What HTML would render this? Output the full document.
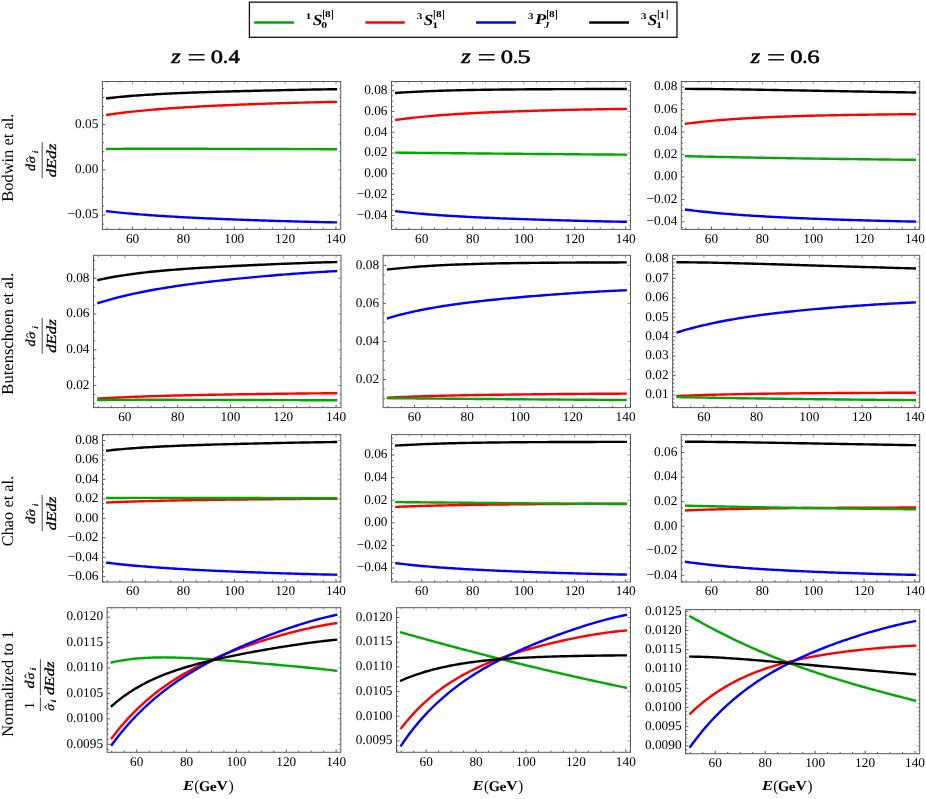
<!DOCTYPE html>
<html><head><meta charset="utf-8"><title>plots</title>
<style>html,body{margin:0;padding:0;background:#fff}svg{display:block;will-change:transform}text{font-family:"Liberation Serif",serif;font-kerning:none;text-rendering:geometricPrecision}</style>
</head><body>
<svg width="926" height="799" viewBox="0 0 926 799">
<rect width="926" height="799" fill="#fff"/>
<path d="M107.17 114.83 L109.71 114.45 L112.25 114.09 L114.79 113.75 L117.33 113.41 L119.88 113.09 L122.42 112.77 L124.96 112.46 L127.50 112.17 L130.04 111.88 L132.58 111.60 L135.13 111.33 L137.67 111.07 L140.21 110.82 L142.75 110.57 L145.29 110.33 L147.84 110.10 L150.38 109.87 L152.92 109.65 L155.46 109.44 L158.00 109.23 L160.55 109.03 L163.09 108.84 L165.63 108.64 L168.17 108.46 L170.71 108.28 L173.25 108.10 L175.80 107.93 L178.34 107.76 L180.88 107.60 L183.42 107.44 L185.96 107.28 L188.51 107.13 L191.05 106.98 L193.59 106.84 L196.13 106.69 L198.67 106.56 L201.22 106.42 L203.76 106.29 L206.30 106.16 L208.84 106.03 L211.38 105.90 L213.92 105.78 L216.47 105.66 L219.01 105.54 L221.55 105.43 L224.09 105.31 L226.63 105.20 L229.18 105.09 L231.72 104.99 L234.26 104.88 L236.80 104.78 L239.34 104.67 L241.88 104.57 L244.43 104.48 L246.97 104.38 L249.51 104.28 L252.05 104.19 L254.59 104.10 L257.14 104.00 L259.68 103.91 L262.22 103.83 L264.76 103.74 L267.30 103.65 L269.85 103.57 L272.39 103.49 L274.93 103.40 L277.47 103.32 L280.01 103.25 L282.55 103.17 L285.10 103.09 L287.64 103.02 L290.18 102.94 L292.72 102.87 L295.26 102.80 L297.81 102.73 L300.35 102.66 L302.89 102.60 L305.43 102.53 L307.97 102.47 L310.52 102.41 L313.06 102.35 L315.60 102.29 L318.14 102.23 L320.68 102.18 L323.22 102.12 L325.77 102.07 L328.31 102.02 L330.85 101.98 L333.39 101.93 L335.93 101.89" fill="none" stroke="#FF0000" stroke-width="2.40" stroke-linecap="square" stroke-linejoin="round"/>
<path d="M107.17 148.94 L109.71 148.92 L112.25 148.90 L114.79 148.88 L117.33 148.86 L119.88 148.85 L122.42 148.84 L124.96 148.82 L127.50 148.81 L130.04 148.80 L132.58 148.79 L135.13 148.79 L137.67 148.78 L140.21 148.77 L142.75 148.77 L145.29 148.76 L147.84 148.76 L150.38 148.76 L152.92 148.75 L155.46 148.75 L158.00 148.75 L160.55 148.75 L163.09 148.75 L165.63 148.75 L168.17 148.75 L170.71 148.76 L173.25 148.76 L175.80 148.76 L178.34 148.76 L180.88 148.77 L183.42 148.77 L185.96 148.78 L188.51 148.78 L191.05 148.79 L193.59 148.79 L196.13 148.80 L198.67 148.80 L201.22 148.81 L203.76 148.81 L206.30 148.82 L208.84 148.83 L211.38 148.83 L213.92 148.84 L216.47 148.85 L219.01 148.85 L221.55 148.86 L224.09 148.87 L226.63 148.87 L229.18 148.88 L231.72 148.89 L234.26 148.90 L236.80 148.90 L239.34 148.91 L241.88 148.92 L244.43 148.93 L246.97 148.93 L249.51 148.94 L252.05 148.95 L254.59 148.96 L257.14 148.97 L259.68 148.97 L262.22 148.98 L264.76 148.99 L267.30 149.00 L269.85 149.01 L272.39 149.01 L274.93 149.02 L277.47 149.03 L280.01 149.04 L282.55 149.05 L285.10 149.06 L287.64 149.06 L290.18 149.07 L292.72 149.08 L295.26 149.09 L297.81 149.10 L300.35 149.11 L302.89 149.12 L305.43 149.13 L307.97 149.13 L310.52 149.14 L313.06 149.15 L315.60 149.16 L318.14 149.17 L320.68 149.18 L323.22 149.19 L325.77 149.20 L328.31 149.21 L330.85 149.22 L333.39 149.23 L335.93 149.24" fill="none" stroke="#00A800" stroke-width="2.40" stroke-linecap="square" stroke-linejoin="round"/>
<path d="M107.17 211.25 L109.71 211.54 L112.25 211.82 L114.79 212.09 L117.33 212.35 L119.88 212.61 L122.42 212.86 L124.96 213.10 L127.50 213.33 L130.04 213.56 L132.58 213.78 L135.13 214.00 L137.67 214.21 L140.21 214.41 L142.75 214.61 L145.29 214.81 L147.84 214.99 L150.38 215.18 L152.92 215.36 L155.46 215.53 L158.00 215.70 L160.55 215.87 L163.09 216.03 L165.63 216.19 L168.17 216.35 L170.71 216.50 L173.25 216.65 L175.80 216.80 L178.34 216.94 L180.88 217.08 L183.42 217.21 L185.96 217.35 L188.51 217.48 L191.05 217.61 L193.59 217.73 L196.13 217.86 L198.67 217.98 L201.22 218.10 L203.76 218.21 L206.30 218.33 L208.84 218.44 L211.38 218.55 L213.92 218.66 L216.47 218.77 L219.01 218.88 L221.55 218.98 L224.09 219.09 L226.63 219.19 L229.18 219.29 L231.72 219.38 L234.26 219.48 L236.80 219.58 L239.34 219.67 L241.88 219.76 L244.43 219.86 L246.97 219.95 L249.51 220.04 L252.05 220.13 L254.59 220.21 L257.14 220.30 L259.68 220.38 L262.22 220.47 L264.76 220.55 L267.30 220.63 L269.85 220.71 L272.39 220.79 L274.93 220.87 L277.47 220.95 L280.01 221.02 L282.55 221.10 L285.10 221.17 L287.64 221.25 L290.18 221.32 L292.72 221.39 L295.26 221.46 L297.81 221.53 L300.35 221.59 L302.89 221.66 L305.43 221.72 L307.97 221.79 L310.52 221.85 L313.06 221.91 L315.60 221.97 L318.14 222.03 L320.68 222.08 L323.22 222.14 L325.77 222.19 L328.31 222.24 L330.85 222.29 L333.39 222.34 L335.93 222.39" fill="none" stroke="#0000FF" stroke-width="2.40" stroke-linecap="square" stroke-linejoin="round"/>
<path d="M107.17 98.31 L109.71 98.01 L112.25 97.72 L114.79 97.44 L117.33 97.18 L119.88 96.93 L122.42 96.69 L124.96 96.46 L127.50 96.24 L130.04 96.02 L132.58 95.82 L135.13 95.62 L137.67 95.43 L140.21 95.25 L142.75 95.08 L145.29 94.91 L147.84 94.74 L150.38 94.59 L152.92 94.44 L155.46 94.29 L158.00 94.15 L160.55 94.01 L163.09 93.88 L165.63 93.75 L168.17 93.63 L170.71 93.51 L173.25 93.39 L175.80 93.28 L178.34 93.17 L180.88 93.06 L183.42 92.96 L185.96 92.86 L188.51 92.76 L191.05 92.67 L193.59 92.57 L196.13 92.48 L198.67 92.39 L201.22 92.31 L203.76 92.22 L206.30 92.14 L208.84 92.06 L211.38 91.98 L213.92 91.90 L216.47 91.82 L219.01 91.75 L221.55 91.67 L224.09 91.60 L226.63 91.53 L229.18 91.46 L231.72 91.39 L234.26 91.32 L236.80 91.26 L239.34 91.19 L241.88 91.12 L244.43 91.06 L246.97 90.99 L249.51 90.93 L252.05 90.87 L254.59 90.81 L257.14 90.74 L259.68 90.68 L262.22 90.62 L264.76 90.56 L267.30 90.50 L269.85 90.45 L272.39 90.39 L274.93 90.33 L277.47 90.27 L280.01 90.22 L282.55 90.16 L285.10 90.11 L287.64 90.06 L290.18 90.00 L292.72 89.95 L295.26 89.90 L297.81 89.85 L300.35 89.80 L302.89 89.75 L305.43 89.70 L307.97 89.65 L310.52 89.61 L313.06 89.56 L315.60 89.52 L318.14 89.48 L320.68 89.44 L323.22 89.40 L325.77 89.36 L328.31 89.32 L330.85 89.29 L333.39 89.25 L335.93 89.22" fill="none" stroke="#000000" stroke-width="2.40" stroke-linecap="square" stroke-linejoin="round"/>
<path d="M107.17 229.40v-1.70 M119.88 229.40v-1.70 M132.58 229.40v-2.90 M145.29 229.40v-1.70 M158.00 229.40v-1.70 M170.71 229.40v-1.70 M183.42 229.40v-2.90 M196.13 229.40v-1.70 M208.84 229.40v-1.70 M221.55 229.40v-1.70 M234.26 229.40v-2.90 M246.97 229.40v-1.70 M259.68 229.40v-1.70 M272.39 229.40v-1.70 M285.10 229.40v-2.90 M297.81 229.40v-1.70 M310.52 229.40v-1.70 M323.22 229.40v-1.70 M335.93 229.40v-2.90 M102.40 224.15h1.70 M102.40 215.10h2.90 M102.40 206.05h1.70 M102.40 197.00h1.70 M102.40 187.95h1.70 M102.40 178.90h1.70 M102.40 169.85h2.90 M102.40 160.80h1.70 M102.40 151.75h1.70 M102.40 142.70h1.70 M102.40 133.65h1.70 M102.40 124.60h2.90 M102.40 115.55h1.70 M102.40 106.50h1.70 M102.40 97.45h1.70 M102.40 88.40h1.70" fill="none" stroke="#333" stroke-width="0.8"/>
<path d="M107.17 81.50v1.70 M119.88 81.50v1.70 M132.58 81.50v2.90 M145.29 81.50v1.70 M158.00 81.50v1.70 M170.71 81.50v1.70 M183.42 81.50v2.90 M196.13 81.50v1.70 M208.84 81.50v1.70 M221.55 81.50v1.70 M234.26 81.50v2.90 M246.97 81.50v1.70 M259.68 81.50v1.70 M272.39 81.50v1.70 M285.10 81.50v2.90 M297.81 81.50v1.70 M310.52 81.50v1.70 M323.22 81.50v1.70 M335.93 81.50v2.90 M340.70 224.15h-1.70 M340.70 215.10h-2.90 M340.70 206.05h-1.70 M340.70 197.00h-1.70 M340.70 187.95h-1.70 M340.70 178.90h-1.70 M340.70 169.85h-2.90 M340.70 160.80h-1.70 M340.70 151.75h-1.70 M340.70 142.70h-1.70 M340.70 133.65h-1.70 M340.70 124.60h-2.90 M340.70 115.55h-1.70 M340.70 106.50h-1.70 M340.70 97.45h-1.70 M340.70 88.40h-1.70" fill="none" stroke="#555" stroke-width="0.6"/>
<rect x="102.40" y="81.50" width="238.30" height="147.90" fill="none" stroke="#5a5a5a" stroke-width="1"/>
<text transform="translate(98.40,218.40) scale(0.13330)" text-anchor="end" font-size="100">−0.05</text>
<text transform="translate(98.40,173.15) scale(0.13330)" text-anchor="end" font-size="100">0.00</text>
<text transform="translate(98.40,127.90) scale(0.13330)" text-anchor="end" font-size="100">0.05</text>
<text transform="translate(132.58,242.80) scale(0.13330)" text-anchor="middle" font-size="100">60</text>
<text transform="translate(183.42,242.80) scale(0.13330)" text-anchor="middle" font-size="100">80</text>
<text transform="translate(234.26,242.80) scale(0.13330)" text-anchor="middle" font-size="100">100</text>
<text transform="translate(285.10,242.80) scale(0.13330)" text-anchor="middle" font-size="100">120</text>
<text transform="translate(335.93,242.80) scale(0.13330)" text-anchor="middle" font-size="100">140</text>
<path d="M396.28 119.86 L398.83 119.50 L401.38 119.16 L403.93 118.83 L406.48 118.51 L409.03 118.20 L411.58 117.90 L414.13 117.62 L416.67 117.34 L419.22 117.08 L421.77 116.82 L424.32 116.57 L426.87 116.33 L429.42 116.10 L431.97 115.88 L434.52 115.67 L437.07 115.46 L439.62 115.26 L442.17 115.06 L444.72 114.87 L447.27 114.69 L449.82 114.52 L452.37 114.35 L454.91 114.18 L457.46 114.02 L460.01 113.86 L462.56 113.71 L465.11 113.57 L467.66 113.43 L470.21 113.29 L472.76 113.16 L475.31 113.03 L477.86 112.90 L480.41 112.78 L482.96 112.66 L485.51 112.54 L488.06 112.43 L490.61 112.32 L493.15 112.21 L495.70 112.10 L498.25 112.00 L500.80 111.90 L503.35 111.80 L505.90 111.71 L508.45 111.62 L511.00 111.52 L513.55 111.44 L516.10 111.35 L518.65 111.26 L521.20 111.18 L523.75 111.10 L526.30 111.02 L528.85 110.94 L531.39 110.86 L533.94 110.78 L536.49 110.71 L539.04 110.64 L541.59 110.57 L544.14 110.49 L546.69 110.43 L549.24 110.36 L551.79 110.29 L554.34 110.22 L556.89 110.16 L559.44 110.10 L561.99 110.04 L564.54 109.97 L567.09 109.91 L569.63 109.86 L572.18 109.80 L574.73 109.74 L577.28 109.69 L579.83 109.63 L582.38 109.58 L584.93 109.53 L587.48 109.48 L590.03 109.43 L592.58 109.38 L595.13 109.34 L597.68 109.29 L600.23 109.25 L602.78 109.21 L605.33 109.17 L607.87 109.13 L610.42 109.10 L612.97 109.06 L615.52 109.03 L618.07 109.00 L620.62 108.97 L623.17 108.94 L625.72 108.92" fill="none" stroke="#FF0000" stroke-width="2.40" stroke-linecap="square" stroke-linejoin="round"/>
<path d="M396.28 152.64 L398.83 152.67 L401.38 152.69 L403.93 152.72 L406.48 152.75 L409.03 152.77 L411.58 152.80 L414.13 152.82 L416.67 152.85 L419.22 152.87 L421.77 152.90 L424.32 152.92 L426.87 152.95 L429.42 152.97 L431.97 153.00 L434.52 153.02 L437.07 153.05 L439.62 153.07 L442.17 153.10 L444.72 153.12 L447.27 153.15 L449.82 153.17 L452.37 153.19 L454.91 153.22 L457.46 153.24 L460.01 153.27 L462.56 153.29 L465.11 153.32 L467.66 153.34 L470.21 153.36 L472.76 153.39 L475.31 153.41 L477.86 153.43 L480.41 153.46 L482.96 153.48 L485.51 153.51 L488.06 153.53 L490.61 153.55 L493.15 153.58 L495.70 153.60 L498.25 153.62 L500.80 153.64 L503.35 153.67 L505.90 153.69 L508.45 153.71 L511.00 153.74 L513.55 153.76 L516.10 153.78 L518.65 153.80 L521.20 153.82 L523.75 153.85 L526.30 153.87 L528.85 153.89 L531.39 153.91 L533.94 153.93 L536.49 153.96 L539.04 153.98 L541.59 154.00 L544.14 154.02 L546.69 154.04 L549.24 154.06 L551.79 154.08 L554.34 154.11 L556.89 154.13 L559.44 154.15 L561.99 154.17 L564.54 154.19 L567.09 154.21 L569.63 154.23 L572.18 154.25 L574.73 154.27 L577.28 154.29 L579.83 154.31 L582.38 154.33 L584.93 154.35 L587.48 154.37 L590.03 154.39 L592.58 154.41 L595.13 154.43 L597.68 154.45 L600.23 154.47 L602.78 154.49 L605.33 154.51 L607.87 154.53 L610.42 154.55 L612.97 154.57 L615.52 154.59 L618.07 154.61 L620.62 154.63 L623.17 154.65 L625.72 154.67" fill="none" stroke="#00A800" stroke-width="2.40" stroke-linecap="square" stroke-linejoin="round"/>
<path d="M396.28 211.28 L398.83 211.58 L401.38 211.86 L403.93 212.13 L406.48 212.40 L409.03 212.66 L411.58 212.90 L414.13 213.14 L416.67 213.38 L419.22 213.60 L421.77 213.82 L424.32 214.03 L426.87 214.24 L429.42 214.44 L431.97 214.63 L434.52 214.82 L437.07 215.00 L439.62 215.18 L442.17 215.35 L444.72 215.52 L447.27 215.68 L449.82 215.84 L452.37 215.99 L454.91 216.14 L457.46 216.29 L460.01 216.43 L462.56 216.57 L465.11 216.71 L467.66 216.84 L470.21 216.97 L472.76 217.10 L475.31 217.22 L477.86 217.34 L480.41 217.46 L482.96 217.58 L485.51 217.69 L488.06 217.80 L490.61 217.91 L493.15 218.02 L495.70 218.12 L498.25 218.23 L500.80 218.33 L503.35 218.43 L505.90 218.53 L508.45 218.62 L511.00 218.72 L513.55 218.81 L516.10 218.90 L518.65 218.99 L521.20 219.08 L523.75 219.17 L526.30 219.26 L528.85 219.34 L531.39 219.42 L533.94 219.51 L536.49 219.59 L539.04 219.67 L541.59 219.75 L544.14 219.83 L546.69 219.91 L549.24 219.98 L551.79 220.06 L554.34 220.13 L556.89 220.21 L559.44 220.28 L561.99 220.35 L564.54 220.42 L567.09 220.49 L569.63 220.56 L572.18 220.63 L574.73 220.70 L577.28 220.77 L579.83 220.83 L582.38 220.90 L584.93 220.96 L587.48 221.02 L590.03 221.08 L592.58 221.14 L595.13 221.20 L597.68 221.26 L600.23 221.32 L602.78 221.37 L605.33 221.43 L607.87 221.48 L610.42 221.53 L612.97 221.58 L615.52 221.63 L618.07 221.67 L620.62 221.72 L623.17 221.76 L625.72 221.80" fill="none" stroke="#0000FF" stroke-width="2.40" stroke-linecap="square" stroke-linejoin="round"/>
<path d="M396.28 92.86 L398.83 92.70 L401.38 92.54 L403.93 92.38 L406.48 92.24 L409.03 92.10 L411.58 91.96 L414.13 91.83 L416.67 91.71 L419.22 91.59 L421.77 91.47 L424.32 91.37 L426.87 91.26 L429.42 91.16 L431.97 91.06 L434.52 90.97 L437.07 90.88 L439.62 90.80 L442.17 90.72 L444.72 90.64 L447.27 90.56 L449.82 90.49 L452.37 90.42 L454.91 90.36 L457.46 90.29 L460.01 90.23 L462.56 90.17 L465.11 90.12 L467.66 90.07 L470.21 90.02 L472.76 89.97 L475.31 89.92 L477.86 89.88 L480.41 89.83 L482.96 89.79 L485.51 89.75 L488.06 89.72 L490.61 89.68 L493.15 89.65 L495.70 89.62 L498.25 89.58 L500.80 89.55 L503.35 89.53 L505.90 89.50 L508.45 89.47 L511.00 89.45 L513.55 89.43 L516.10 89.40 L518.65 89.38 L521.20 89.36 L523.75 89.34 L526.30 89.32 L528.85 89.31 L531.39 89.29 L533.94 89.27 L536.49 89.26 L539.04 89.24 L541.59 89.23 L544.14 89.22 L546.69 89.20 L549.24 89.19 L551.79 89.18 L554.34 89.17 L556.89 89.16 L559.44 89.15 L561.99 89.14 L564.54 89.13 L567.09 89.12 L569.63 89.11 L572.18 89.11 L574.73 89.10 L577.28 89.09 L579.83 89.08 L582.38 89.08 L584.93 89.07 L587.48 89.06 L590.03 89.06 L592.58 89.05 L595.13 89.05 L597.68 89.04 L600.23 89.04 L602.78 89.03 L605.33 89.03 L607.87 89.02 L610.42 89.02 L612.97 89.02 L615.52 89.01 L618.07 89.01 L620.62 89.01 L623.17 89.00 L625.72 89.00" fill="none" stroke="#000000" stroke-width="2.40" stroke-linecap="square" stroke-linejoin="round"/>
<path d="M396.28 229.40v-1.70 M409.03 229.40v-1.70 M421.77 229.40v-2.90 M434.52 229.40v-1.70 M447.27 229.40v-1.70 M460.01 229.40v-1.70 M472.76 229.40v-2.90 M485.51 229.40v-1.70 M498.25 229.40v-1.70 M511.00 229.40v-1.70 M523.75 229.40v-2.90 M536.49 229.40v-1.70 M549.24 229.40v-1.70 M561.99 229.40v-1.70 M574.73 229.40v-2.90 M587.48 229.40v-1.70 M600.23 229.40v-1.70 M612.97 229.40v-1.70 M625.72 229.40v-2.90 M391.50 225.78h1.70 M391.50 220.58h1.70 M391.50 215.38h2.90 M391.50 210.18h1.70 M391.50 204.99h1.70 M391.50 199.79h1.70 M391.50 194.59h2.90 M391.50 189.39h1.70 M391.50 184.20h1.70 M391.50 179.00h1.70 M391.50 173.80h2.90 M391.50 168.60h1.70 M391.50 163.41h1.70 M391.50 158.21h1.70 M391.50 153.01h2.90 M391.50 147.81h1.70 M391.50 142.62h1.70 M391.50 137.42h1.70 M391.50 132.22h2.90 M391.50 127.02h1.70 M391.50 121.83h1.70 M391.50 116.63h1.70 M391.50 111.43h2.90 M391.50 106.23h1.70 M391.50 101.04h1.70 M391.50 95.84h1.70 M391.50 90.64h2.90 M391.50 85.44h1.70" fill="none" stroke="#333" stroke-width="0.8"/>
<path d="M396.28 81.50v1.70 M409.03 81.50v1.70 M421.77 81.50v2.90 M434.52 81.50v1.70 M447.27 81.50v1.70 M460.01 81.50v1.70 M472.76 81.50v2.90 M485.51 81.50v1.70 M498.25 81.50v1.70 M511.00 81.50v1.70 M523.75 81.50v2.90 M536.49 81.50v1.70 M549.24 81.50v1.70 M561.99 81.50v1.70 M574.73 81.50v2.90 M587.48 81.50v1.70 M600.23 81.50v1.70 M612.97 81.50v1.70 M625.72 81.50v2.90 M630.50 225.78h-1.70 M630.50 220.58h-1.70 M630.50 215.38h-2.90 M630.50 210.18h-1.70 M630.50 204.99h-1.70 M630.50 199.79h-1.70 M630.50 194.59h-2.90 M630.50 189.39h-1.70 M630.50 184.20h-1.70 M630.50 179.00h-1.70 M630.50 173.80h-2.90 M630.50 168.60h-1.70 M630.50 163.41h-1.70 M630.50 158.21h-1.70 M630.50 153.01h-2.90 M630.50 147.81h-1.70 M630.50 142.62h-1.70 M630.50 137.42h-1.70 M630.50 132.22h-2.90 M630.50 127.02h-1.70 M630.50 121.83h-1.70 M630.50 116.63h-1.70 M630.50 111.43h-2.90 M630.50 106.23h-1.70 M630.50 101.04h-1.70 M630.50 95.84h-1.70 M630.50 90.64h-2.90 M630.50 85.44h-1.70" fill="none" stroke="#555" stroke-width="0.6"/>
<rect x="391.50" y="81.50" width="239.00" height="147.90" fill="none" stroke="#5a5a5a" stroke-width="1"/>
<text transform="translate(387.50,218.68) scale(0.13330)" text-anchor="end" font-size="100">−0.04</text>
<text transform="translate(387.50,197.89) scale(0.13330)" text-anchor="end" font-size="100">−0.02</text>
<text transform="translate(387.50,177.10) scale(0.13330)" text-anchor="end" font-size="100">0.00</text>
<text transform="translate(387.50,156.31) scale(0.13330)" text-anchor="end" font-size="100">0.02</text>
<text transform="translate(387.50,135.52) scale(0.13330)" text-anchor="end" font-size="100">0.04</text>
<text transform="translate(387.50,114.73) scale(0.13330)" text-anchor="end" font-size="100">0.06</text>
<text transform="translate(387.50,93.94) scale(0.13330)" text-anchor="end" font-size="100">0.08</text>
<text transform="translate(421.77,242.80) scale(0.13330)" text-anchor="middle" font-size="100">60</text>
<text transform="translate(472.76,242.80) scale(0.13330)" text-anchor="middle" font-size="100">80</text>
<text transform="translate(523.75,242.80) scale(0.13330)" text-anchor="middle" font-size="100">100</text>
<text transform="translate(574.73,242.80) scale(0.13330)" text-anchor="middle" font-size="100">120</text>
<text transform="translate(625.72,242.80) scale(0.13330)" text-anchor="middle" font-size="100">140</text>
<path d="M686.07 123.74 L688.61 123.41 L691.15 123.09 L693.70 122.78 L696.24 122.48 L698.78 122.19 L701.33 121.91 L703.87 121.64 L706.41 121.38 L708.95 121.13 L711.50 120.88 L714.04 120.65 L716.58 120.42 L719.13 120.21 L721.67 119.99 L724.21 119.79 L726.75 119.59 L729.30 119.40 L731.84 119.22 L734.38 119.04 L736.93 118.87 L739.47 118.71 L742.01 118.55 L744.56 118.39 L747.10 118.24 L749.64 118.10 L752.18 117.96 L754.73 117.82 L757.27 117.69 L759.81 117.57 L762.36 117.45 L764.90 117.33 L767.44 117.21 L769.98 117.10 L772.53 117.00 L775.07 116.90 L777.61 116.80 L780.16 116.70 L782.70 116.61 L785.24 116.52 L787.79 116.43 L790.33 116.34 L792.87 116.26 L795.41 116.18 L797.96 116.10 L800.50 116.03 L803.04 115.96 L805.59 115.89 L808.13 115.82 L810.67 115.75 L813.21 115.69 L815.76 115.63 L818.30 115.57 L820.84 115.51 L823.39 115.45 L825.93 115.40 L828.47 115.34 L831.02 115.29 L833.56 115.24 L836.10 115.19 L838.64 115.14 L841.19 115.09 L843.73 115.05 L846.27 115.00 L848.82 114.96 L851.36 114.92 L853.90 114.88 L856.44 114.84 L858.99 114.80 L861.53 114.76 L864.07 114.73 L866.62 114.69 L869.16 114.66 L871.70 114.62 L874.25 114.59 L876.79 114.56 L879.33 114.53 L881.87 114.50 L884.42 114.47 L886.96 114.44 L889.50 114.42 L892.05 114.39 L894.59 114.37 L897.13 114.34 L899.67 114.32 L902.22 114.30 L904.76 114.27 L907.30 114.25 L909.85 114.24 L912.39 114.22 L914.93 114.20" fill="none" stroke="#FF0000" stroke-width="2.40" stroke-linecap="square" stroke-linejoin="round"/>
<path d="M686.07 156.16 L688.61 156.22 L691.15 156.28 L693.70 156.35 L696.24 156.41 L698.78 156.47 L701.33 156.53 L703.87 156.58 L706.41 156.64 L708.95 156.70 L711.50 156.76 L714.04 156.81 L716.58 156.87 L719.13 156.93 L721.67 156.98 L724.21 157.03 L726.75 157.09 L729.30 157.14 L731.84 157.19 L734.38 157.24 L736.93 157.30 L739.47 157.35 L742.01 157.40 L744.56 157.45 L747.10 157.49 L749.64 157.54 L752.18 157.59 L754.73 157.64 L757.27 157.68 L759.81 157.73 L762.36 157.78 L764.90 157.82 L767.44 157.87 L769.98 157.91 L772.53 157.96 L775.07 158.00 L777.61 158.04 L780.16 158.08 L782.70 158.13 L785.24 158.17 L787.79 158.21 L790.33 158.25 L792.87 158.29 L795.41 158.33 L797.96 158.37 L800.50 158.41 L803.04 158.44 L805.59 158.48 L808.13 158.52 L810.67 158.56 L813.21 158.59 L815.76 158.63 L818.30 158.67 L820.84 158.70 L823.39 158.74 L825.93 158.77 L828.47 158.81 L831.02 158.84 L833.56 158.87 L836.10 158.91 L838.64 158.94 L841.19 158.97 L843.73 159.01 L846.27 159.04 L848.82 159.07 L851.36 159.10 L853.90 159.13 L856.44 159.16 L858.99 159.20 L861.53 159.23 L864.07 159.26 L866.62 159.29 L869.16 159.32 L871.70 159.35 L874.25 159.38 L876.79 159.41 L879.33 159.44 L881.87 159.46 L884.42 159.49 L886.96 159.52 L889.50 159.55 L892.05 159.58 L894.59 159.61 L897.13 159.64 L899.67 159.66 L902.22 159.69 L904.76 159.72 L907.30 159.75 L909.85 159.78 L912.39 159.80 L914.93 159.83" fill="none" stroke="#00A800" stroke-width="2.40" stroke-linecap="square" stroke-linejoin="round"/>
<path d="M686.07 209.65 L688.61 209.98 L691.15 210.30 L693.70 210.60 L696.24 210.90 L698.78 211.19 L701.33 211.47 L703.87 211.74 L706.41 212.01 L708.95 212.26 L711.50 212.51 L714.04 212.75 L716.58 212.99 L719.13 213.22 L721.67 213.44 L724.21 213.66 L726.75 213.87 L729.30 214.07 L731.84 214.28 L734.38 214.47 L736.93 214.66 L739.47 214.84 L742.01 215.02 L744.56 215.20 L747.10 215.37 L749.64 215.54 L752.18 215.70 L754.73 215.86 L757.27 216.02 L759.81 216.17 L762.36 216.32 L764.90 216.46 L767.44 216.60 L769.98 216.74 L772.53 216.88 L775.07 217.01 L777.61 217.14 L780.16 217.27 L782.70 217.39 L785.24 217.51 L787.79 217.63 L790.33 217.75 L792.87 217.86 L795.41 217.97 L797.96 218.08 L800.50 218.19 L803.04 218.30 L805.59 218.40 L808.13 218.51 L810.67 218.61 L813.21 218.70 L815.76 218.80 L818.30 218.90 L820.84 218.99 L823.39 219.08 L825.93 219.17 L828.47 219.26 L831.02 219.35 L833.56 219.44 L836.10 219.52 L838.64 219.61 L841.19 219.69 L843.73 219.77 L846.27 219.85 L848.82 219.93 L851.36 220.01 L853.90 220.09 L856.44 220.16 L858.99 220.24 L861.53 220.31 L864.07 220.38 L866.62 220.45 L869.16 220.52 L871.70 220.59 L874.25 220.66 L876.79 220.72 L879.33 220.79 L881.87 220.85 L884.42 220.92 L886.96 220.98 L889.50 221.04 L892.05 221.10 L894.59 221.16 L897.13 221.22 L899.67 221.27 L902.22 221.33 L904.76 221.38 L907.30 221.43 L909.85 221.48 L912.39 221.53 L914.93 221.58" fill="none" stroke="#0000FF" stroke-width="2.40" stroke-linecap="square" stroke-linejoin="round"/>
<path d="M686.07 88.91 L688.61 88.91 L691.15 88.92 L693.70 88.93 L696.24 88.94 L698.78 88.96 L701.33 88.98 L703.87 89.00 L706.41 89.02 L708.95 89.04 L711.50 89.06 L714.04 89.09 L716.58 89.12 L719.13 89.14 L721.67 89.17 L724.21 89.21 L726.75 89.24 L729.30 89.27 L731.84 89.31 L734.38 89.34 L736.93 89.38 L739.47 89.42 L742.01 89.45 L744.56 89.49 L747.10 89.53 L749.64 89.57 L752.18 89.61 L754.73 89.66 L757.27 89.70 L759.81 89.74 L762.36 89.78 L764.90 89.83 L767.44 89.87 L769.98 89.92 L772.53 89.96 L775.07 90.01 L777.61 90.05 L780.16 90.10 L782.70 90.14 L785.24 90.19 L787.79 90.23 L790.33 90.28 L792.87 90.33 L795.41 90.37 L797.96 90.42 L800.50 90.47 L803.04 90.51 L805.59 90.56 L808.13 90.61 L810.67 90.65 L813.21 90.70 L815.76 90.75 L818.30 90.79 L820.84 90.84 L823.39 90.89 L825.93 90.93 L828.47 90.98 L831.02 91.03 L833.56 91.07 L836.10 91.12 L838.64 91.16 L841.19 91.21 L843.73 91.26 L846.27 91.30 L848.82 91.35 L851.36 91.39 L853.90 91.44 L856.44 91.48 L858.99 91.53 L861.53 91.57 L864.07 91.62 L866.62 91.66 L869.16 91.71 L871.70 91.75 L874.25 91.80 L876.79 91.84 L879.33 91.88 L881.87 91.93 L884.42 91.97 L886.96 92.01 L889.50 92.06 L892.05 92.10 L894.59 92.15 L897.13 92.19 L899.67 92.23 L902.22 92.28 L904.76 92.32 L907.30 92.36 L909.85 92.41 L912.39 92.45 L914.93 92.49" fill="none" stroke="#000000" stroke-width="2.40" stroke-linecap="square" stroke-linejoin="round"/>
<path d="M686.07 229.40v-1.70 M698.78 229.40v-1.70 M711.50 229.40v-2.90 M724.21 229.40v-1.70 M736.93 229.40v-1.70 M749.64 229.40v-1.70 M762.36 229.40v-2.90 M775.07 229.40v-1.70 M787.79 229.40v-1.70 M800.50 229.40v-1.70 M813.21 229.40v-2.90 M825.93 229.40v-1.70 M838.64 229.40v-1.70 M851.36 229.40v-1.70 M864.07 229.40v-2.90 M876.79 229.40v-1.70 M889.50 229.40v-1.70 M902.22 229.40v-1.70 M914.93 229.40v-2.90 M681.30 227.48h1.70 M681.30 221.86h2.90 M681.30 216.24h1.70 M681.30 210.62h1.70 M681.30 205.00h1.70 M681.30 199.38h2.90 M681.30 193.76h1.70 M681.30 188.14h1.70 M681.30 182.52h1.70 M681.30 176.90h2.90 M681.30 171.28h1.70 M681.30 165.66h1.70 M681.30 160.04h1.70 M681.30 154.42h2.90 M681.30 148.80h1.70 M681.30 143.18h1.70 M681.30 137.56h1.70 M681.30 131.94h2.90 M681.30 126.32h1.70 M681.30 120.70h1.70 M681.30 115.08h1.70 M681.30 109.46h2.90 M681.30 103.84h1.70 M681.30 98.22h1.70 M681.30 92.60h1.70 M681.30 86.98h2.90" fill="none" stroke="#333" stroke-width="0.8"/>
<path d="M686.07 81.50v1.70 M698.78 81.50v1.70 M711.50 81.50v2.90 M724.21 81.50v1.70 M736.93 81.50v1.70 M749.64 81.50v1.70 M762.36 81.50v2.90 M775.07 81.50v1.70 M787.79 81.50v1.70 M800.50 81.50v1.70 M813.21 81.50v2.90 M825.93 81.50v1.70 M838.64 81.50v1.70 M851.36 81.50v1.70 M864.07 81.50v2.90 M876.79 81.50v1.70 M889.50 81.50v1.70 M902.22 81.50v1.70 M914.93 81.50v2.90 M919.70 227.48h-1.70 M919.70 221.86h-2.90 M919.70 216.24h-1.70 M919.70 210.62h-1.70 M919.70 205.00h-1.70 M919.70 199.38h-2.90 M919.70 193.76h-1.70 M919.70 188.14h-1.70 M919.70 182.52h-1.70 M919.70 176.90h-2.90 M919.70 171.28h-1.70 M919.70 165.66h-1.70 M919.70 160.04h-1.70 M919.70 154.42h-2.90 M919.70 148.80h-1.70 M919.70 143.18h-1.70 M919.70 137.56h-1.70 M919.70 131.94h-2.90 M919.70 126.32h-1.70 M919.70 120.70h-1.70 M919.70 115.08h-1.70 M919.70 109.46h-2.90 M919.70 103.84h-1.70 M919.70 98.22h-1.70 M919.70 92.60h-1.70 M919.70 86.98h-2.90" fill="none" stroke="#555" stroke-width="0.6"/>
<rect x="681.30" y="81.50" width="238.40" height="147.90" fill="none" stroke="#5a5a5a" stroke-width="1"/>
<text transform="translate(677.30,225.16) scale(0.13330)" text-anchor="end" font-size="100">−0.04</text>
<text transform="translate(677.30,202.68) scale(0.13330)" text-anchor="end" font-size="100">−0.02</text>
<text transform="translate(677.30,180.20) scale(0.13330)" text-anchor="end" font-size="100">0.00</text>
<text transform="translate(677.30,157.72) scale(0.13330)" text-anchor="end" font-size="100">0.02</text>
<text transform="translate(677.30,135.24) scale(0.13330)" text-anchor="end" font-size="100">0.04</text>
<text transform="translate(677.30,112.76) scale(0.13330)" text-anchor="end" font-size="100">0.06</text>
<text transform="translate(677.30,90.28) scale(0.13330)" text-anchor="end" font-size="100">0.08</text>
<text transform="translate(711.50,242.80) scale(0.13330)" text-anchor="middle" font-size="100">60</text>
<text transform="translate(762.36,242.80) scale(0.13330)" text-anchor="middle" font-size="100">80</text>
<text transform="translate(813.21,242.80) scale(0.13330)" text-anchor="middle" font-size="100">100</text>
<text transform="translate(864.07,242.80) scale(0.13330)" text-anchor="middle" font-size="100">120</text>
<text transform="translate(914.93,242.80) scale(0.13330)" text-anchor="middle" font-size="100">140</text>
<path d="M98.45 398.54 L101.09 398.39 L103.73 398.24 L106.37 398.10 L109.01 397.96 L111.65 397.83 L114.29 397.70 L116.93 397.57 L119.57 397.45 L122.21 397.33 L124.85 397.22 L127.49 397.11 L130.13 397.00 L132.77 396.89 L135.41 396.79 L138.05 396.69 L140.69 396.60 L143.33 396.50 L145.97 396.41 L148.61 396.32 L151.25 396.24 L153.89 396.16 L156.53 396.08 L159.17 396.00 L161.81 395.92 L164.45 395.85 L167.09 395.77 L169.73 395.70 L172.37 395.63 L175.01 395.56 L177.65 395.50 L180.29 395.43 L182.93 395.37 L185.57 395.31 L188.21 395.25 L190.85 395.19 L193.49 395.13 L196.13 395.08 L198.77 395.02 L201.41 394.97 L204.05 394.92 L206.69 394.87 L209.33 394.82 L211.97 394.77 L214.61 394.72 L217.25 394.67 L219.89 394.62 L222.53 394.58 L225.17 394.53 L227.81 394.49 L230.45 394.44 L233.09 394.40 L235.73 394.36 L238.37 394.32 L241.01 394.28 L243.65 394.24 L246.29 394.20 L248.93 394.16 L251.57 394.12 L254.21 394.08 L256.85 394.05 L259.49 394.01 L262.13 393.97 L264.77 393.94 L267.41 393.90 L270.05 393.87 L272.69 393.84 L275.33 393.80 L277.97 393.77 L280.61 393.74 L283.25 393.71 L285.89 393.68 L288.53 393.65 L291.17 393.62 L293.81 393.59 L296.45 393.56 L299.09 393.53 L301.73 393.50 L304.37 393.48 L307.01 393.45 L309.65 393.42 L312.29 393.40 L314.93 393.38 L317.57 393.35 L320.21 393.33 L322.85 393.31 L325.49 393.29 L328.13 393.27 L330.77 393.25 L333.41 393.23 L336.05 393.21" fill="none" stroke="#FF0000" stroke-width="2.40" stroke-linecap="square" stroke-linejoin="round"/>
<path d="M98.45 400.00 L101.09 399.98 L103.73 399.96 L106.37 399.94 L109.01 399.92 L111.65 399.91 L114.29 399.89 L116.93 399.88 L119.57 399.87 L122.21 399.86 L124.85 399.85 L127.49 399.84 L130.13 399.83 L132.77 399.83 L135.41 399.82 L138.05 399.82 L140.69 399.81 L143.33 399.81 L145.97 399.81 L148.61 399.81 L151.25 399.81 L153.89 399.81 L156.53 399.81 L159.17 399.81 L161.81 399.81 L164.45 399.81 L167.09 399.81 L169.73 399.82 L172.37 399.82 L175.01 399.82 L177.65 399.83 L180.29 399.83 L182.93 399.84 L185.57 399.84 L188.21 399.85 L190.85 399.85 L193.49 399.86 L196.13 399.86 L198.77 399.87 L201.41 399.87 L204.05 399.88 L206.69 399.89 L209.33 399.89 L211.97 399.90 L214.61 399.91 L217.25 399.92 L219.89 399.92 L222.53 399.93 L225.17 399.94 L227.81 399.95 L230.45 399.95 L233.09 399.96 L235.73 399.97 L238.37 399.98 L241.01 399.98 L243.65 399.99 L246.29 400.00 L248.93 400.01 L251.57 400.02 L254.21 400.02 L256.85 400.03 L259.49 400.04 L262.13 400.05 L264.77 400.06 L267.41 400.07 L270.05 400.07 L272.69 400.08 L275.33 400.09 L277.97 400.10 L280.61 400.11 L283.25 400.12 L285.89 400.12 L288.53 400.13 L291.17 400.14 L293.81 400.15 L296.45 400.16 L299.09 400.17 L301.73 400.18 L304.37 400.19 L307.01 400.20 L309.65 400.20 L312.29 400.21 L314.93 400.22 L317.57 400.23 L320.21 400.24 L322.85 400.25 L325.49 400.26 L328.13 400.27 L330.77 400.29 L333.41 400.30 L336.05 400.31" fill="none" stroke="#00A800" stroke-width="2.40" stroke-linecap="square" stroke-linejoin="round"/>
<path d="M98.45 302.96 L101.09 302.14 L103.73 301.34 L106.37 300.56 L109.01 299.81 L111.65 299.08 L114.29 298.37 L116.93 297.68 L119.57 297.01 L122.21 296.36 L124.85 295.72 L127.49 295.11 L130.13 294.51 L132.77 293.92 L135.41 293.35 L138.05 292.80 L140.69 292.26 L143.33 291.73 L145.97 291.22 L148.61 290.72 L151.25 290.23 L153.89 289.75 L156.53 289.29 L159.17 288.83 L161.81 288.39 L164.45 287.95 L167.09 287.53 L169.73 287.11 L172.37 286.71 L175.01 286.31 L177.65 285.92 L180.29 285.54 L182.93 285.16 L185.57 284.79 L188.21 284.43 L190.85 284.08 L193.49 283.73 L196.13 283.39 L198.77 283.06 L201.41 282.73 L204.05 282.41 L206.69 282.09 L209.33 281.78 L211.97 281.47 L214.61 281.16 L217.25 280.87 L219.89 280.57 L222.53 280.28 L225.17 280.00 L227.81 279.72 L230.45 279.44 L233.09 279.17 L235.73 278.90 L238.37 278.63 L241.01 278.37 L243.65 278.11 L246.29 277.85 L248.93 277.60 L251.57 277.35 L254.21 277.11 L256.85 276.86 L259.49 276.62 L262.13 276.39 L264.77 276.15 L267.41 275.92 L270.05 275.70 L272.69 275.47 L275.33 275.25 L277.97 275.03 L280.61 274.82 L283.25 274.61 L285.89 274.40 L288.53 274.19 L291.17 273.99 L293.81 273.79 L296.45 273.60 L299.09 273.41 L301.73 273.22 L304.37 273.03 L307.01 272.85 L309.65 272.67 L312.29 272.50 L314.93 272.33 L317.57 272.17 L320.21 272.01 L322.85 271.85 L325.49 271.70 L328.13 271.55 L330.77 271.41 L333.41 271.27 L336.05 271.14" fill="none" stroke="#0000FF" stroke-width="2.40" stroke-linecap="square" stroke-linejoin="round"/>
<path d="M98.45 279.99 L101.09 279.39 L103.73 278.83 L106.37 278.29 L109.01 277.77 L111.65 277.27 L114.29 276.80 L116.93 276.34 L119.57 275.90 L122.21 275.48 L124.85 275.08 L127.49 274.69 L130.13 274.32 L132.77 273.96 L135.41 273.61 L138.05 273.28 L140.69 272.96 L143.33 272.65 L145.97 272.35 L148.61 272.06 L151.25 271.78 L153.89 271.51 L156.53 271.25 L159.17 271.00 L161.81 270.75 L164.45 270.51 L167.09 270.28 L169.73 270.06 L172.37 269.85 L175.01 269.64 L177.65 269.43 L180.29 269.23 L182.93 269.04 L185.57 268.85 L188.21 268.67 L190.85 268.49 L193.49 268.31 L196.13 268.14 L198.77 267.98 L201.41 267.81 L204.05 267.65 L206.69 267.50 L209.33 267.34 L211.97 267.19 L214.61 267.04 L217.25 266.90 L219.89 266.75 L222.53 266.61 L225.17 266.47 L227.81 266.34 L230.45 266.20 L233.09 266.07 L235.73 265.94 L238.37 265.81 L241.01 265.68 L243.65 265.55 L246.29 265.43 L248.93 265.30 L251.57 265.18 L254.21 265.06 L256.85 264.94 L259.49 264.82 L262.13 264.70 L264.77 264.59 L267.41 264.47 L270.05 264.36 L272.69 264.24 L275.33 264.13 L277.97 264.02 L280.61 263.91 L283.25 263.81 L285.89 263.70 L288.53 263.60 L291.17 263.49 L293.81 263.39 L296.45 263.29 L299.09 263.19 L301.73 263.10 L304.37 263.00 L307.01 262.91 L309.65 262.82 L312.29 262.73 L314.93 262.64 L317.57 262.56 L320.21 262.48 L322.85 262.40 L325.49 262.32 L328.13 262.25 L330.77 262.18 L333.41 262.11 L336.05 262.05" fill="none" stroke="#000000" stroke-width="2.40" stroke-linecap="square" stroke-linejoin="round"/>
<path d="M98.45 407.60v-1.70 M111.65 407.60v-1.70 M124.85 407.60v-2.90 M138.05 407.60v-1.70 M151.25 407.60v-1.70 M164.45 407.60v-1.70 M177.65 407.60v-2.90 M190.85 407.60v-1.70 M204.05 407.60v-1.70 M217.25 407.60v-1.70 M230.45 407.60v-2.90 M243.65 407.60v-1.70 M256.85 407.60v-1.70 M270.05 407.60v-1.70 M283.25 407.60v-2.90 M296.45 407.60v-1.70 M309.65 407.60v-1.70 M322.85 407.60v-1.70 M336.05 407.60v-2.90 M93.50 403.37h1.70 M93.50 394.43h1.70 M93.50 385.50h2.90 M93.50 376.57h1.70 M93.50 367.63h1.70 M93.50 358.70h1.70 M93.50 349.77h2.90 M93.50 340.83h1.70 M93.50 331.90h1.70 M93.50 322.97h1.70 M93.50 314.03h2.90 M93.50 305.10h1.70 M93.50 296.16h1.70 M93.50 287.23h1.70 M93.50 278.30h2.90 M93.50 269.36h1.70 M93.50 260.43h1.70" fill="none" stroke="#333" stroke-width="0.8"/>
<path d="M98.45 255.30v1.70 M111.65 255.30v1.70 M124.85 255.30v2.90 M138.05 255.30v1.70 M151.25 255.30v1.70 M164.45 255.30v1.70 M177.65 255.30v2.90 M190.85 255.30v1.70 M204.05 255.30v1.70 M217.25 255.30v1.70 M230.45 255.30v2.90 M243.65 255.30v1.70 M256.85 255.30v1.70 M270.05 255.30v1.70 M283.25 255.30v2.90 M296.45 255.30v1.70 M309.65 255.30v1.70 M322.85 255.30v1.70 M336.05 255.30v2.90 M341.00 403.37h-1.70 M341.00 394.43h-1.70 M341.00 385.50h-2.90 M341.00 376.57h-1.70 M341.00 367.63h-1.70 M341.00 358.70h-1.70 M341.00 349.77h-2.90 M341.00 340.83h-1.70 M341.00 331.90h-1.70 M341.00 322.97h-1.70 M341.00 314.03h-2.90 M341.00 305.10h-1.70 M341.00 296.16h-1.70 M341.00 287.23h-1.70 M341.00 278.30h-2.90 M341.00 269.36h-1.70 M341.00 260.43h-1.70" fill="none" stroke="#555" stroke-width="0.6"/>
<rect x="93.50" y="255.30" width="247.50" height="152.30" fill="none" stroke="#5a5a5a" stroke-width="1"/>
<text transform="translate(89.50,388.80) scale(0.13330)" text-anchor="end" font-size="100">0.02</text>
<text transform="translate(89.50,353.07) scale(0.13330)" text-anchor="end" font-size="100">0.04</text>
<text transform="translate(89.50,317.33) scale(0.13330)" text-anchor="end" font-size="100">0.06</text>
<text transform="translate(89.50,281.60) scale(0.13330)" text-anchor="end" font-size="100">0.08</text>
<text transform="translate(124.85,421.00) scale(0.13330)" text-anchor="middle" font-size="100">60</text>
<text transform="translate(177.65,421.00) scale(0.13330)" text-anchor="middle" font-size="100">80</text>
<text transform="translate(230.45,421.00) scale(0.13330)" text-anchor="middle" font-size="100">100</text>
<text transform="translate(283.25,421.00) scale(0.13330)" text-anchor="middle" font-size="100">120</text>
<text transform="translate(336.05,421.00) scale(0.13330)" text-anchor="middle" font-size="100">140</text>
<path d="M388.05 397.68 L390.69 397.54 L393.33 397.42 L395.96 397.30 L398.60 397.18 L401.24 397.07 L403.88 396.96 L406.52 396.85 L409.16 396.75 L411.80 396.65 L414.44 396.56 L417.08 396.47 L419.72 396.38 L422.35 396.30 L424.99 396.21 L427.63 396.13 L430.27 396.06 L432.91 395.98 L435.55 395.91 L438.19 395.84 L440.83 395.78 L443.47 395.71 L446.10 395.65 L448.74 395.59 L451.38 395.53 L454.02 395.47 L456.66 395.42 L459.30 395.36 L461.94 395.31 L464.58 395.26 L467.22 395.21 L469.85 395.16 L472.49 395.12 L475.13 395.07 L477.77 395.03 L480.41 394.98 L483.05 394.94 L485.69 394.90 L488.33 394.86 L490.97 394.82 L493.61 394.79 L496.24 394.75 L498.88 394.71 L501.52 394.68 L504.16 394.64 L506.80 394.61 L509.44 394.58 L512.08 394.54 L514.72 394.51 L517.36 394.48 L519.99 394.45 L522.63 394.42 L525.27 394.39 L527.91 394.37 L530.55 394.34 L533.19 394.31 L535.83 394.28 L538.47 394.26 L541.11 394.23 L543.75 394.20 L546.38 394.18 L549.02 394.16 L551.66 394.13 L554.30 394.11 L556.94 394.08 L559.58 394.06 L562.22 394.04 L564.86 394.02 L567.50 394.00 L570.13 393.97 L572.77 393.95 L575.41 393.93 L578.05 393.91 L580.69 393.89 L583.33 393.88 L585.97 393.86 L588.61 393.84 L591.25 393.82 L593.88 393.80 L596.52 393.79 L599.16 393.77 L601.80 393.76 L604.44 393.74 L607.08 393.73 L609.72 393.72 L612.36 393.70 L615.00 393.69 L617.64 393.68 L620.27 393.67 L622.91 393.66 L625.55 393.65" fill="none" stroke="#FF0000" stroke-width="2.40" stroke-linecap="square" stroke-linejoin="round"/>
<path d="M388.05 398.18 L390.69 398.20 L393.33 398.23 L395.96 398.25 L398.60 398.27 L401.24 398.30 L403.88 398.32 L406.52 398.34 L409.16 398.37 L411.80 398.39 L414.44 398.41 L417.08 398.44 L419.72 398.46 L422.35 398.48 L424.99 398.50 L427.63 398.53 L430.27 398.55 L432.91 398.57 L435.55 398.59 L438.19 398.62 L440.83 398.64 L443.47 398.66 L446.10 398.68 L448.74 398.71 L451.38 398.73 L454.02 398.75 L456.66 398.77 L459.30 398.79 L461.94 398.82 L464.58 398.84 L467.22 398.86 L469.85 398.88 L472.49 398.90 L475.13 398.93 L477.77 398.95 L480.41 398.97 L483.05 398.99 L485.69 399.01 L488.33 399.03 L490.97 399.05 L493.61 399.07 L496.24 399.09 L498.88 399.12 L501.52 399.14 L504.16 399.16 L506.80 399.18 L509.44 399.20 L512.08 399.22 L514.72 399.24 L517.36 399.26 L519.99 399.28 L522.63 399.30 L525.27 399.32 L527.91 399.34 L530.55 399.36 L533.19 399.38 L535.83 399.40 L538.47 399.42 L541.11 399.44 L543.75 399.46 L546.38 399.48 L549.02 399.50 L551.66 399.52 L554.30 399.54 L556.94 399.56 L559.58 399.57 L562.22 399.59 L564.86 399.61 L567.50 399.63 L570.13 399.65 L572.77 399.67 L575.41 399.69 L578.05 399.71 L580.69 399.73 L583.33 399.74 L585.97 399.76 L588.61 399.78 L591.25 399.80 L593.88 399.82 L596.52 399.84 L599.16 399.85 L601.80 399.87 L604.44 399.89 L607.08 399.91 L609.72 399.93 L612.36 399.94 L615.00 399.96 L617.64 399.98 L620.27 400.00 L622.91 400.01 L625.55 400.03" fill="none" stroke="#00A800" stroke-width="2.40" stroke-linecap="square" stroke-linejoin="round"/>
<path d="M388.05 318.14 L390.69 317.36 L393.33 316.60 L395.96 315.88 L398.60 315.17 L401.24 314.49 L403.88 313.83 L406.52 313.20 L409.16 312.58 L411.80 311.98 L414.44 311.41 L417.08 310.84 L419.72 310.30 L422.35 309.77 L424.99 309.26 L427.63 308.76 L430.27 308.28 L432.91 307.81 L435.55 307.35 L438.19 306.91 L440.83 306.48 L443.47 306.06 L446.10 305.65 L448.74 305.25 L451.38 304.86 L454.02 304.48 L456.66 304.11 L459.30 303.75 L461.94 303.40 L464.58 303.06 L467.22 302.72 L469.85 302.39 L472.49 302.07 L475.13 301.75 L477.77 301.45 L480.41 301.14 L483.05 300.85 L485.69 300.56 L488.33 300.28 L490.97 300.00 L493.61 299.72 L496.24 299.45 L498.88 299.19 L501.52 298.93 L504.16 298.67 L506.80 298.42 L509.44 298.18 L512.08 297.93 L514.72 297.69 L517.36 297.46 L519.99 297.22 L522.63 296.99 L525.27 296.77 L527.91 296.55 L530.55 296.32 L533.19 296.11 L535.83 295.89 L538.47 295.68 L541.11 295.47 L543.75 295.27 L546.38 295.06 L549.02 294.86 L551.66 294.66 L554.30 294.47 L556.94 294.27 L559.58 294.08 L562.22 293.89 L564.86 293.71 L567.50 293.52 L570.13 293.34 L572.77 293.16 L575.41 292.99 L578.05 292.81 L580.69 292.64 L583.33 292.48 L585.97 292.31 L588.61 292.15 L591.25 291.99 L593.88 291.83 L596.52 291.68 L599.16 291.53 L601.80 291.38 L604.44 291.24 L607.08 291.10 L609.72 290.96 L612.36 290.83 L615.00 290.70 L617.64 290.58 L620.27 290.46 L622.91 290.34 L625.55 290.23" fill="none" stroke="#0000FF" stroke-width="2.40" stroke-linecap="square" stroke-linejoin="round"/>
<path d="M388.05 269.48 L390.69 269.17 L393.33 268.88 L395.96 268.60 L398.60 268.33 L401.24 268.07 L403.88 267.83 L406.52 267.59 L409.16 267.36 L411.80 267.15 L414.44 266.94 L417.08 266.74 L419.72 266.54 L422.35 266.36 L424.99 266.18 L427.63 266.02 L430.27 265.85 L432.91 265.70 L435.55 265.55 L438.19 265.41 L440.83 265.27 L443.47 265.14 L446.10 265.01 L448.74 264.89 L451.38 264.78 L454.02 264.66 L456.66 264.56 L459.30 264.46 L461.94 264.36 L464.58 264.27 L467.22 264.18 L469.85 264.09 L472.49 264.01 L475.13 263.93 L477.77 263.86 L480.41 263.79 L483.05 263.72 L485.69 263.66 L488.33 263.59 L490.97 263.54 L493.61 263.48 L496.24 263.42 L498.88 263.37 L501.52 263.32 L504.16 263.28 L506.80 263.23 L509.44 263.19 L512.08 263.15 L514.72 263.11 L517.36 263.07 L519.99 263.04 L522.63 263.00 L525.27 262.97 L527.91 262.94 L530.55 262.91 L533.19 262.88 L535.83 262.86 L538.47 262.83 L541.11 262.81 L543.75 262.78 L546.38 262.76 L549.02 262.74 L551.66 262.72 L554.30 262.70 L556.94 262.68 L559.58 262.67 L562.22 262.65 L564.86 262.63 L567.50 262.62 L570.13 262.60 L572.77 262.59 L575.41 262.58 L578.05 262.56 L580.69 262.55 L583.33 262.54 L585.97 262.53 L588.61 262.52 L591.25 262.51 L593.88 262.50 L596.52 262.49 L599.16 262.48 L601.80 262.47 L604.44 262.46 L607.08 262.46 L609.72 262.45 L612.36 262.44 L615.00 262.43 L617.64 262.43 L620.27 262.42 L622.91 262.42 L625.55 262.41" fill="none" stroke="#000000" stroke-width="2.40" stroke-linecap="square" stroke-linejoin="round"/>
<path d="M388.05 407.60v-1.70 M401.24 407.60v-1.70 M414.44 407.60v-2.90 M427.63 407.60v-1.70 M440.83 407.60v-1.70 M454.02 407.60v-1.70 M467.22 407.60v-2.90 M480.41 407.60v-1.70 M493.61 407.60v-1.70 M506.80 407.60v-1.70 M519.99 407.60v-2.90 M533.19 407.60v-1.70 M546.38 407.60v-1.70 M559.58 407.60v-1.70 M572.77 407.60v-2.90 M585.97 407.60v-1.70 M599.16 407.60v-1.70 M612.36 407.60v-1.70 M625.55 407.60v-2.90 M383.10 398.51h1.70 M383.10 389.01h1.70 M383.10 379.50h2.90 M383.10 369.99h1.70 M383.10 360.49h1.70 M383.10 350.98h1.70 M383.10 341.47h2.90 M383.10 331.96h1.70 M383.10 322.45h1.70 M383.10 312.95h1.70 M383.10 303.44h2.90 M383.10 293.93h1.70 M383.10 284.43h1.70 M383.10 274.92h1.70 M383.10 265.41h2.90 M383.10 255.90h1.70" fill="none" stroke="#333" stroke-width="0.8"/>
<path d="M388.05 255.30v1.70 M401.24 255.30v1.70 M414.44 255.30v2.90 M427.63 255.30v1.70 M440.83 255.30v1.70 M454.02 255.30v1.70 M467.22 255.30v2.90 M480.41 255.30v1.70 M493.61 255.30v1.70 M506.80 255.30v1.70 M519.99 255.30v2.90 M533.19 255.30v1.70 M546.38 255.30v1.70 M559.58 255.30v1.70 M572.77 255.30v2.90 M585.97 255.30v1.70 M599.16 255.30v1.70 M612.36 255.30v1.70 M625.55 255.30v2.90 M630.50 398.51h-1.70 M630.50 389.01h-1.70 M630.50 379.50h-2.90 M630.50 369.99h-1.70 M630.50 360.49h-1.70 M630.50 350.98h-1.70 M630.50 341.47h-2.90 M630.50 331.96h-1.70 M630.50 322.45h-1.70 M630.50 312.95h-1.70 M630.50 303.44h-2.90 M630.50 293.93h-1.70 M630.50 284.43h-1.70 M630.50 274.92h-1.70 M630.50 265.41h-2.90 M630.50 255.90h-1.70" fill="none" stroke="#555" stroke-width="0.6"/>
<rect x="383.10" y="255.30" width="247.40" height="152.30" fill="none" stroke="#5a5a5a" stroke-width="1"/>
<text transform="translate(379.10,382.80) scale(0.13330)" text-anchor="end" font-size="100">0.02</text>
<text transform="translate(379.10,344.77) scale(0.13330)" text-anchor="end" font-size="100">0.04</text>
<text transform="translate(379.10,306.74) scale(0.13330)" text-anchor="end" font-size="100">0.06</text>
<text transform="translate(379.10,268.71) scale(0.13330)" text-anchor="end" font-size="100">0.08</text>
<text transform="translate(414.44,421.00) scale(0.13330)" text-anchor="middle" font-size="100">60</text>
<text transform="translate(467.22,421.00) scale(0.13330)" text-anchor="middle" font-size="100">80</text>
<text transform="translate(519.99,421.00) scale(0.13330)" text-anchor="middle" font-size="100">100</text>
<text transform="translate(572.77,421.00) scale(0.13330)" text-anchor="middle" font-size="100">120</text>
<text transform="translate(625.55,421.00) scale(0.13330)" text-anchor="middle" font-size="100">140</text>
<path d="M677.54 396.04 L680.18 395.92 L682.81 395.81 L685.45 395.70 L688.08 395.60 L690.72 395.50 L693.36 395.40 L695.99 395.31 L698.63 395.22 L701.26 395.13 L703.90 395.05 L706.54 394.97 L709.17 394.89 L711.81 394.81 L714.44 394.74 L717.08 394.67 L719.71 394.60 L722.35 394.54 L724.99 394.47 L727.62 394.41 L730.26 394.35 L732.89 394.29 L735.53 394.24 L738.16 394.18 L740.80 394.13 L743.44 394.08 L746.07 394.03 L748.71 393.99 L751.34 393.94 L753.98 393.90 L756.61 393.86 L759.25 393.82 L761.89 393.78 L764.52 393.74 L767.16 393.70 L769.79 393.67 L772.43 393.63 L775.06 393.60 L777.70 393.57 L780.34 393.54 L782.97 393.50 L785.61 393.48 L788.24 393.45 L790.88 393.42 L793.51 393.39 L796.15 393.37 L798.79 393.34 L801.42 393.32 L804.06 393.29 L806.69 393.27 L809.33 393.25 L811.96 393.23 L814.60 393.21 L817.24 393.19 L819.87 393.17 L822.51 393.15 L825.14 393.13 L827.78 393.11 L830.41 393.09 L833.05 393.08 L835.69 393.06 L838.32 393.04 L840.96 393.03 L843.59 393.01 L846.23 393.00 L848.86 392.98 L851.50 392.97 L854.14 392.96 L856.77 392.94 L859.41 392.93 L862.04 392.92 L864.68 392.90 L867.31 392.89 L869.95 392.88 L872.59 392.87 L875.22 392.86 L877.86 392.85 L880.49 392.84 L883.13 392.83 L885.76 392.82 L888.40 392.81 L891.04 392.80 L893.67 392.79 L896.31 392.78 L898.94 392.77 L901.58 392.77 L904.22 392.76 L906.85 392.75 L909.49 392.75 L912.12 392.74 L914.76 392.73" fill="none" stroke="#FF0000" stroke-width="2.40" stroke-linecap="square" stroke-linejoin="round"/>
<path d="M677.54 397.11 L680.18 397.16 L682.81 397.21 L685.45 397.26 L688.08 397.31 L690.72 397.36 L693.36 397.41 L695.99 397.46 L698.63 397.51 L701.26 397.56 L703.90 397.61 L706.54 397.65 L709.17 397.70 L711.81 397.75 L714.44 397.79 L717.08 397.84 L719.71 397.88 L722.35 397.92 L724.99 397.97 L727.62 398.01 L730.26 398.05 L732.89 398.10 L735.53 398.14 L738.16 398.18 L740.80 398.22 L743.44 398.26 L746.07 398.30 L748.71 398.34 L751.34 398.38 L753.98 398.42 L756.61 398.46 L759.25 398.50 L761.89 398.53 L764.52 398.57 L767.16 398.61 L769.79 398.64 L772.43 398.68 L775.06 398.71 L777.70 398.75 L780.34 398.78 L782.97 398.82 L785.61 398.85 L788.24 398.88 L790.88 398.92 L793.51 398.95 L796.15 398.98 L798.79 399.01 L801.42 399.05 L804.06 399.08 L806.69 399.11 L809.33 399.14 L811.96 399.17 L814.60 399.20 L817.24 399.23 L819.87 399.26 L822.51 399.29 L825.14 399.32 L827.78 399.35 L830.41 399.37 L833.05 399.40 L835.69 399.43 L838.32 399.46 L840.96 399.48 L843.59 399.51 L846.23 399.54 L848.86 399.56 L851.50 399.59 L854.14 399.62 L856.77 399.64 L859.41 399.67 L862.04 399.69 L864.68 399.72 L867.31 399.74 L869.95 399.77 L872.59 399.79 L875.22 399.82 L877.86 399.84 L880.49 399.87 L883.13 399.89 L885.76 399.92 L888.40 399.94 L891.04 399.96 L893.67 399.99 L896.31 400.01 L898.94 400.03 L901.58 400.06 L904.22 400.08 L906.85 400.11 L909.49 400.13 L912.12 400.15 L914.76 400.17" fill="none" stroke="#00A800" stroke-width="2.40" stroke-linecap="square" stroke-linejoin="round"/>
<path d="M677.54 332.33 L680.18 331.51 L682.81 330.72 L685.45 329.95 L688.08 329.20 L690.72 328.48 L693.36 327.78 L695.99 327.10 L698.63 326.43 L701.26 325.79 L703.90 325.17 L706.54 324.56 L709.17 323.97 L711.81 323.39 L714.44 322.83 L717.08 322.29 L719.71 321.76 L722.35 321.25 L724.99 320.74 L727.62 320.26 L730.26 319.78 L732.89 319.32 L735.53 318.86 L738.16 318.42 L740.80 317.99 L743.44 317.58 L746.07 317.17 L748.71 316.77 L751.34 316.38 L753.98 316.00 L756.61 315.63 L759.25 315.26 L761.89 314.91 L764.52 314.56 L767.16 314.22 L769.79 313.89 L772.43 313.57 L775.06 313.25 L777.70 312.94 L780.34 312.63 L782.97 312.33 L785.61 312.04 L788.24 311.75 L790.88 311.47 L793.51 311.19 L796.15 310.92 L798.79 310.66 L801.42 310.40 L804.06 310.14 L806.69 309.89 L809.33 309.64 L811.96 309.40 L814.60 309.16 L817.24 308.92 L819.87 308.69 L822.51 308.46 L825.14 308.24 L827.78 308.02 L830.41 307.80 L833.05 307.59 L835.69 307.37 L838.32 307.17 L840.96 306.96 L843.59 306.76 L846.23 306.56 L848.86 306.37 L851.50 306.18 L854.14 305.99 L856.77 305.80 L859.41 305.62 L862.04 305.44 L864.68 305.26 L867.31 305.08 L869.95 304.91 L872.59 304.74 L875.22 304.57 L877.86 304.41 L880.49 304.25 L883.13 304.09 L885.76 303.94 L888.40 303.78 L891.04 303.63 L893.67 303.49 L896.31 303.34 L898.94 303.21 L901.58 303.07 L904.22 302.93 L906.85 302.80 L909.49 302.68 L912.12 302.55 L914.76 302.44" fill="none" stroke="#0000FF" stroke-width="2.40" stroke-linecap="square" stroke-linejoin="round"/>
<path d="M677.54 262.25 L680.18 262.26 L682.81 262.28 L685.45 262.29 L688.08 262.32 L690.72 262.34 L693.36 262.37 L695.99 262.41 L698.63 262.44 L701.26 262.48 L703.90 262.52 L706.54 262.57 L709.17 262.61 L711.81 262.66 L714.44 262.72 L717.08 262.77 L719.71 262.83 L722.35 262.88 L724.99 262.94 L727.62 263.01 L730.26 263.07 L732.89 263.13 L735.53 263.20 L738.16 263.27 L740.80 263.34 L743.44 263.41 L746.07 263.48 L748.71 263.55 L751.34 263.62 L753.98 263.70 L756.61 263.77 L759.25 263.85 L761.89 263.92 L764.52 264.00 L767.16 264.08 L769.79 264.15 L772.43 264.23 L775.06 264.31 L777.70 264.39 L780.34 264.47 L782.97 264.55 L785.61 264.63 L788.24 264.71 L790.88 264.79 L793.51 264.87 L796.15 264.95 L798.79 265.03 L801.42 265.11 L804.06 265.19 L806.69 265.27 L809.33 265.36 L811.96 265.44 L814.60 265.52 L817.24 265.60 L819.87 265.68 L822.51 265.76 L825.14 265.84 L827.78 265.92 L830.41 266.00 L833.05 266.08 L835.69 266.16 L838.32 266.24 L840.96 266.32 L843.59 266.40 L846.23 266.47 L848.86 266.55 L851.50 266.63 L854.14 266.71 L856.77 266.79 L859.41 266.86 L862.04 266.94 L864.68 267.02 L867.31 267.09 L869.95 267.17 L872.59 267.25 L875.22 267.32 L877.86 267.40 L880.49 267.48 L883.13 267.55 L885.76 267.63 L888.40 267.70 L891.04 267.78 L893.67 267.85 L896.31 267.93 L898.94 268.00 L901.58 268.08 L904.22 268.15 L906.85 268.23 L909.49 268.30 L912.12 268.38 L914.76 268.45" fill="none" stroke="#000000" stroke-width="2.40" stroke-linecap="square" stroke-linejoin="round"/>
<path d="M677.54 407.60v-1.70 M690.72 407.60v-1.70 M703.90 407.60v-2.90 M717.08 407.60v-1.70 M730.26 407.60v-1.70 M743.44 407.60v-1.70 M756.61 407.60v-2.90 M769.79 407.60v-1.70 M782.97 407.60v-1.70 M796.15 407.60v-1.70 M809.33 407.60v-2.90 M822.51 407.60v-1.70 M835.69 407.60v-1.70 M848.86 407.60v-1.70 M862.04 407.60v-2.90 M875.22 407.60v-1.70 M888.40 407.60v-1.70 M901.58 407.60v-1.70 M914.76 407.60v-2.90 M672.60 406.66h1.70 M672.60 402.78h1.70 M672.60 398.89h1.70 M672.60 395.00h2.90 M672.60 391.11h1.70 M672.60 387.22h1.70 M672.60 383.34h1.70 M672.60 379.45h1.70 M672.60 375.56h2.90 M672.60 371.67h1.70 M672.60 367.78h1.70 M672.60 363.90h1.70 M672.60 360.01h1.70 M672.60 356.12h2.90 M672.60 352.23h1.70 M672.60 348.34h1.70 M672.60 344.46h1.70 M672.60 340.57h1.70 M672.60 336.68h2.90 M672.60 332.79h1.70 M672.60 328.90h1.70 M672.60 325.02h1.70 M672.60 321.13h1.70 M672.60 317.24h2.90 M672.60 313.35h1.70 M672.60 309.46h1.70 M672.60 305.58h1.70 M672.60 301.69h1.70 M672.60 297.80h2.90 M672.60 293.91h1.70 M672.60 290.02h1.70 M672.60 286.14h1.70 M672.60 282.25h1.70 M672.60 278.36h2.90 M672.60 274.47h1.70 M672.60 270.58h1.70 M672.60 266.70h1.70 M672.60 262.81h1.70 M672.60 258.92h2.90" fill="none" stroke="#333" stroke-width="0.8"/>
<path d="M677.54 255.30v1.70 M690.72 255.30v1.70 M703.90 255.30v2.90 M717.08 255.30v1.70 M730.26 255.30v1.70 M743.44 255.30v1.70 M756.61 255.30v2.90 M769.79 255.30v1.70 M782.97 255.30v1.70 M796.15 255.30v1.70 M809.33 255.30v2.90 M822.51 255.30v1.70 M835.69 255.30v1.70 M848.86 255.30v1.70 M862.04 255.30v2.90 M875.22 255.30v1.70 M888.40 255.30v1.70 M901.58 255.30v1.70 M914.76 255.30v2.90 M919.70 406.66h-1.70 M919.70 402.78h-1.70 M919.70 398.89h-1.70 M919.70 395.00h-2.90 M919.70 391.11h-1.70 M919.70 387.22h-1.70 M919.70 383.34h-1.70 M919.70 379.45h-1.70 M919.70 375.56h-2.90 M919.70 371.67h-1.70 M919.70 367.78h-1.70 M919.70 363.90h-1.70 M919.70 360.01h-1.70 M919.70 356.12h-2.90 M919.70 352.23h-1.70 M919.70 348.34h-1.70 M919.70 344.46h-1.70 M919.70 340.57h-1.70 M919.70 336.68h-2.90 M919.70 332.79h-1.70 M919.70 328.90h-1.70 M919.70 325.02h-1.70 M919.70 321.13h-1.70 M919.70 317.24h-2.90 M919.70 313.35h-1.70 M919.70 309.46h-1.70 M919.70 305.58h-1.70 M919.70 301.69h-1.70 M919.70 297.80h-2.90 M919.70 293.91h-1.70 M919.70 290.02h-1.70 M919.70 286.14h-1.70 M919.70 282.25h-1.70 M919.70 278.36h-2.90 M919.70 274.47h-1.70 M919.70 270.58h-1.70 M919.70 266.70h-1.70 M919.70 262.81h-1.70 M919.70 258.92h-2.90" fill="none" stroke="#555" stroke-width="0.6"/>
<rect x="672.60" y="255.30" width="247.10" height="152.30" fill="none" stroke="#5a5a5a" stroke-width="1"/>
<text transform="translate(668.60,398.30) scale(0.13330)" text-anchor="end" font-size="100">0.01</text>
<text transform="translate(668.60,378.86) scale(0.13330)" text-anchor="end" font-size="100">0.02</text>
<text transform="translate(668.60,359.42) scale(0.13330)" text-anchor="end" font-size="100">0.03</text>
<text transform="translate(668.60,339.98) scale(0.13330)" text-anchor="end" font-size="100">0.04</text>
<text transform="translate(668.60,320.54) scale(0.13330)" text-anchor="end" font-size="100">0.05</text>
<text transform="translate(668.60,301.10) scale(0.13330)" text-anchor="end" font-size="100">0.06</text>
<text transform="translate(668.60,281.66) scale(0.13330)" text-anchor="end" font-size="100">0.07</text>
<text transform="translate(668.60,262.22) scale(0.13330)" text-anchor="end" font-size="100">0.08</text>
<text transform="translate(703.90,421.00) scale(0.13330)" text-anchor="middle" font-size="100">60</text>
<text transform="translate(756.61,421.00) scale(0.13330)" text-anchor="middle" font-size="100">80</text>
<text transform="translate(809.33,421.00) scale(0.13330)" text-anchor="middle" font-size="100">100</text>
<text transform="translate(862.04,421.00) scale(0.13330)" text-anchor="middle" font-size="100">120</text>
<text transform="translate(914.76,421.00) scale(0.13330)" text-anchor="middle" font-size="100">140</text>
<path d="M107.27 502.44 L109.81 502.34 L112.35 502.23 L114.89 502.13 L117.43 502.04 L119.98 501.94 L122.52 501.85 L125.06 501.76 L127.60 501.68 L130.14 501.59 L132.68 501.51 L135.23 501.44 L137.77 501.36 L140.31 501.29 L142.85 501.22 L145.39 501.15 L147.94 501.08 L150.48 501.02 L153.02 500.95 L155.56 500.89 L158.10 500.83 L160.65 500.77 L163.19 500.72 L165.73 500.66 L168.27 500.61 L170.81 500.56 L173.35 500.51 L175.90 500.46 L178.44 500.41 L180.98 500.36 L183.52 500.31 L186.06 500.27 L188.61 500.23 L191.15 500.18 L193.69 500.14 L196.23 500.10 L198.77 500.06 L201.32 500.02 L203.86 499.98 L206.40 499.94 L208.94 499.91 L211.48 499.87 L214.02 499.84 L216.57 499.80 L219.11 499.77 L221.65 499.74 L224.19 499.70 L226.73 499.67 L229.28 499.64 L231.82 499.61 L234.36 499.58 L236.90 499.55 L239.44 499.52 L241.98 499.49 L244.53 499.46 L247.07 499.43 L249.61 499.40 L252.15 499.38 L254.69 499.35 L257.24 499.32 L259.78 499.30 L262.32 499.27 L264.86 499.25 L267.40 499.22 L269.95 499.20 L272.49 499.18 L275.03 499.15 L277.57 499.13 L280.11 499.11 L282.65 499.08 L285.20 499.06 L287.74 499.04 L290.28 499.02 L292.82 499.00 L295.36 498.98 L297.91 498.96 L300.45 498.94 L302.99 498.92 L305.53 498.90 L308.07 498.88 L310.62 498.86 L313.16 498.85 L315.70 498.83 L318.24 498.81 L320.78 498.80 L323.32 498.78 L325.87 498.77 L328.41 498.75 L330.95 498.74 L333.49 498.73 L336.03 498.72" fill="none" stroke="#FF0000" stroke-width="2.40" stroke-linecap="square" stroke-linejoin="round"/>
<path d="M107.27 498.03 L109.81 498.01 L112.35 497.99 L114.89 497.98 L117.43 497.96 L119.98 497.95 L122.52 497.93 L125.06 497.92 L127.60 497.91 L130.14 497.90 L132.68 497.89 L135.23 497.88 L137.77 497.88 L140.31 497.87 L142.85 497.87 L145.39 497.86 L147.94 497.86 L150.48 497.86 L153.02 497.85 L155.56 497.85 L158.10 497.85 L160.65 497.85 L163.19 497.85 L165.73 497.85 L168.27 497.85 L170.81 497.86 L173.35 497.86 L175.90 497.86 L178.44 497.86 L180.98 497.87 L183.52 497.87 L186.06 497.88 L188.61 497.88 L191.15 497.88 L193.69 497.89 L196.23 497.89 L198.77 497.90 L201.32 497.91 L203.86 497.91 L206.40 497.92 L208.94 497.92 L211.48 497.93 L214.02 497.94 L216.57 497.94 L219.11 497.95 L221.65 497.96 L224.19 497.96 L226.73 497.97 L229.28 497.98 L231.82 497.98 L234.36 497.99 L236.90 498.00 L239.44 498.01 L241.98 498.01 L244.53 498.02 L247.07 498.03 L249.61 498.04 L252.15 498.04 L254.69 498.05 L257.24 498.06 L259.78 498.07 L262.32 498.08 L264.86 498.08 L267.40 498.09 L269.95 498.10 L272.49 498.11 L275.03 498.11 L277.57 498.12 L280.11 498.13 L282.65 498.14 L285.20 498.15 L287.74 498.15 L290.28 498.16 L292.82 498.17 L295.36 498.18 L297.91 498.19 L300.45 498.20 L302.99 498.21 L305.53 498.21 L308.07 498.22 L310.62 498.23 L313.16 498.24 L315.70 498.25 L318.24 498.26 L320.78 498.27 L323.32 498.28 L325.87 498.29 L328.41 498.30 L330.95 498.31 L333.49 498.32 L336.03 498.33" fill="none" stroke="#00A800" stroke-width="2.40" stroke-linecap="square" stroke-linejoin="round"/>
<path d="M107.27 562.75 L109.81 563.06 L112.35 563.36 L114.89 563.66 L117.43 563.94 L119.98 564.21 L122.52 564.48 L125.06 564.74 L127.60 564.99 L130.14 565.24 L132.68 565.47 L135.23 565.71 L137.77 565.93 L140.31 566.15 L142.85 566.37 L145.39 566.57 L147.94 566.78 L150.48 566.97 L153.02 567.17 L155.56 567.35 L158.10 567.54 L160.65 567.72 L163.19 567.89 L165.73 568.06 L168.27 568.23 L170.81 568.39 L173.35 568.55 L175.90 568.71 L178.44 568.86 L180.98 569.01 L183.52 569.16 L186.06 569.30 L188.61 569.44 L191.15 569.58 L193.69 569.72 L196.23 569.85 L198.77 569.98 L201.32 570.11 L203.86 570.23 L206.40 570.36 L208.94 570.48 L211.48 570.60 L214.02 570.72 L216.57 570.83 L219.11 570.95 L221.65 571.06 L224.19 571.17 L226.73 571.28 L229.28 571.38 L231.82 571.49 L234.36 571.59 L236.90 571.70 L239.44 571.80 L241.98 571.90 L244.53 572.00 L247.07 572.09 L249.61 572.19 L252.15 572.29 L254.69 572.38 L257.24 572.47 L259.78 572.56 L262.32 572.65 L264.86 572.74 L267.40 572.83 L269.95 572.92 L272.49 573.00 L275.03 573.09 L277.57 573.17 L280.11 573.25 L282.65 573.33 L285.20 573.41 L287.74 573.49 L290.28 573.57 L292.82 573.64 L295.36 573.72 L297.91 573.79 L300.45 573.86 L302.99 573.93 L305.53 574.00 L308.07 574.07 L310.62 574.14 L313.16 574.20 L315.70 574.27 L318.24 574.33 L320.78 574.39 L323.32 574.45 L325.87 574.50 L328.41 574.56 L330.95 574.61 L333.49 574.66 L336.03 574.71" fill="none" stroke="#0000FF" stroke-width="2.40" stroke-linecap="square" stroke-linejoin="round"/>
<path d="M107.27 450.62 L109.81 450.33 L112.35 450.06 L114.89 449.80 L117.43 449.56 L119.98 449.32 L122.52 449.09 L125.06 448.87 L127.60 448.66 L130.14 448.46 L132.68 448.27 L135.23 448.08 L137.77 447.90 L140.31 447.73 L142.85 447.56 L145.39 447.40 L147.94 447.25 L150.48 447.10 L153.02 446.96 L155.56 446.82 L158.10 446.68 L160.65 446.56 L163.19 446.43 L165.73 446.31 L168.27 446.19 L170.81 446.08 L173.35 445.97 L175.90 445.86 L178.44 445.76 L180.98 445.66 L183.52 445.56 L186.06 445.47 L188.61 445.37 L191.15 445.28 L193.69 445.19 L196.23 445.11 L198.77 445.02 L201.32 444.94 L203.86 444.86 L206.40 444.78 L208.94 444.71 L211.48 444.63 L214.02 444.56 L216.57 444.49 L219.11 444.42 L221.65 444.35 L224.19 444.28 L226.73 444.21 L229.28 444.14 L231.82 444.08 L234.36 444.01 L236.90 443.95 L239.44 443.89 L241.98 443.82 L244.53 443.76 L247.07 443.70 L249.61 443.64 L252.15 443.58 L254.69 443.52 L257.24 443.46 L259.78 443.41 L262.32 443.35 L264.86 443.29 L267.40 443.24 L269.95 443.18 L272.49 443.13 L275.03 443.07 L277.57 443.02 L280.11 442.97 L282.65 442.92 L285.20 442.86 L287.74 442.81 L290.28 442.76 L292.82 442.71 L295.36 442.67 L297.91 442.62 L300.45 442.57 L302.99 442.52 L305.53 442.48 L308.07 442.43 L310.62 442.39 L313.16 442.35 L315.70 442.31 L318.24 442.27 L320.78 442.23 L323.32 442.19 L325.87 442.15 L328.41 442.12 L330.95 442.09 L333.49 442.05 L336.03 442.02" fill="none" stroke="#000000" stroke-width="2.40" stroke-linecap="square" stroke-linejoin="round"/>
<path d="M107.27 582.00v-1.70 M119.98 582.00v-1.70 M132.68 582.00v-2.90 M145.39 582.00v-1.70 M158.10 582.00v-1.70 M170.81 582.00v-1.70 M183.52 582.00v-2.90 M196.23 582.00v-1.70 M208.94 582.00v-1.70 M221.65 582.00v-1.70 M234.36 582.00v-2.90 M247.07 582.00v-1.70 M259.78 582.00v-1.70 M272.49 582.00v-1.70 M285.20 582.00v-2.90 M297.91 582.00v-1.70 M310.62 582.00v-1.70 M323.32 582.00v-1.70 M336.03 582.00v-2.90 M102.50 581.54h1.70 M102.50 576.68h2.90 M102.50 571.81h1.70 M102.50 566.95h1.70 M102.50 562.08h1.70 M102.50 557.22h2.90 M102.50 552.35h1.70 M102.50 547.49h1.70 M102.50 542.62h1.70 M102.50 537.76h2.90 M102.50 532.89h1.70 M102.50 528.03h1.70 M102.50 523.16h1.70 M102.50 518.30h2.90 M102.50 513.43h1.70 M102.50 508.57h1.70 M102.50 503.70h1.70 M102.50 498.84h2.90 M102.50 493.97h1.70 M102.50 489.11h1.70 M102.50 484.24h1.70 M102.50 479.38h2.90 M102.50 474.51h1.70 M102.50 469.65h1.70 M102.50 464.78h1.70 M102.50 459.92h2.90 M102.50 455.05h1.70 M102.50 450.19h1.70 M102.50 445.32h1.70 M102.50 440.46h2.90 M102.50 435.59h1.70" fill="none" stroke="#333" stroke-width="0.8"/>
<path d="M107.27 434.60v1.70 M119.98 434.60v1.70 M132.68 434.60v2.90 M145.39 434.60v1.70 M158.10 434.60v1.70 M170.81 434.60v1.70 M183.52 434.60v2.90 M196.23 434.60v1.70 M208.94 434.60v1.70 M221.65 434.60v1.70 M234.36 434.60v2.90 M247.07 434.60v1.70 M259.78 434.60v1.70 M272.49 434.60v1.70 M285.20 434.60v2.90 M297.91 434.60v1.70 M310.62 434.60v1.70 M323.32 434.60v1.70 M336.03 434.60v2.90 M340.80 581.54h-1.70 M340.80 576.68h-2.90 M340.80 571.81h-1.70 M340.80 566.95h-1.70 M340.80 562.08h-1.70 M340.80 557.22h-2.90 M340.80 552.35h-1.70 M340.80 547.49h-1.70 M340.80 542.62h-1.70 M340.80 537.76h-2.90 M340.80 532.89h-1.70 M340.80 528.03h-1.70 M340.80 523.16h-1.70 M340.80 518.30h-2.90 M340.80 513.43h-1.70 M340.80 508.57h-1.70 M340.80 503.70h-1.70 M340.80 498.84h-2.90 M340.80 493.97h-1.70 M340.80 489.11h-1.70 M340.80 484.24h-1.70 M340.80 479.38h-2.90 M340.80 474.51h-1.70 M340.80 469.65h-1.70 M340.80 464.78h-1.70 M340.80 459.92h-2.90 M340.80 455.05h-1.70 M340.80 450.19h-1.70 M340.80 445.32h-1.70 M340.80 440.46h-2.90 M340.80 435.59h-1.70" fill="none" stroke="#555" stroke-width="0.6"/>
<rect x="102.50" y="434.60" width="238.30" height="147.40" fill="none" stroke="#5a5a5a" stroke-width="1"/>
<text transform="translate(98.50,579.98) scale(0.13330)" text-anchor="end" font-size="100">−0.06</text>
<text transform="translate(98.50,560.52) scale(0.13330)" text-anchor="end" font-size="100">−0.04</text>
<text transform="translate(98.50,541.06) scale(0.13330)" text-anchor="end" font-size="100">−0.02</text>
<text transform="translate(98.50,521.60) scale(0.13330)" text-anchor="end" font-size="100">0.00</text>
<text transform="translate(98.50,502.14) scale(0.13330)" text-anchor="end" font-size="100">0.02</text>
<text transform="translate(98.50,482.68) scale(0.13330)" text-anchor="end" font-size="100">0.04</text>
<text transform="translate(98.50,463.22) scale(0.13330)" text-anchor="end" font-size="100">0.06</text>
<text transform="translate(98.50,443.76) scale(0.13330)" text-anchor="end" font-size="100">0.08</text>
<text transform="translate(132.68,595.40) scale(0.13330)" text-anchor="middle" font-size="100">60</text>
<text transform="translate(183.52,595.40) scale(0.13330)" text-anchor="middle" font-size="100">80</text>
<text transform="translate(234.36,595.40) scale(0.13330)" text-anchor="middle" font-size="100">100</text>
<text transform="translate(285.20,595.40) scale(0.13330)" text-anchor="middle" font-size="100">120</text>
<text transform="translate(336.03,595.40) scale(0.13330)" text-anchor="middle" font-size="100">140</text>
<path d="M396.28 506.86 L398.83 506.76 L401.38 506.66 L403.93 506.56 L406.48 506.47 L409.03 506.37 L411.58 506.29 L414.13 506.20 L416.67 506.12 L419.22 506.04 L421.77 505.97 L424.32 505.89 L426.87 505.82 L429.42 505.76 L431.97 505.69 L434.52 505.63 L437.07 505.56 L439.62 505.51 L442.17 505.45 L444.72 505.39 L447.27 505.34 L449.82 505.29 L452.37 505.24 L454.91 505.19 L457.46 505.14 L460.01 505.09 L462.56 505.05 L465.11 505.01 L467.66 504.96 L470.21 504.92 L472.76 504.88 L475.31 504.85 L477.86 504.81 L480.41 504.77 L482.96 504.74 L485.51 504.70 L488.06 504.67 L490.61 504.64 L493.15 504.60 L495.70 504.57 L498.25 504.54 L500.80 504.51 L503.35 504.49 L505.90 504.46 L508.45 504.43 L511.00 504.40 L513.55 504.38 L516.10 504.35 L518.65 504.33 L521.20 504.30 L523.75 504.28 L526.30 504.25 L528.85 504.23 L531.39 504.21 L533.94 504.18 L536.49 504.16 L539.04 504.14 L541.59 504.12 L544.14 504.10 L546.69 504.08 L549.24 504.06 L551.79 504.04 L554.34 504.02 L556.89 504.00 L559.44 503.98 L561.99 503.96 L564.54 503.94 L567.09 503.93 L569.63 503.91 L572.18 503.89 L574.73 503.88 L577.28 503.86 L579.83 503.84 L582.38 503.83 L584.93 503.81 L587.48 503.80 L590.03 503.78 L592.58 503.77 L595.13 503.76 L597.68 503.74 L600.23 503.73 L602.78 503.72 L605.33 503.71 L607.87 503.70 L610.42 503.68 L612.97 503.67 L615.52 503.66 L618.07 503.66 L620.62 503.65 L623.17 503.64 L625.72 503.63" fill="none" stroke="#FF0000" stroke-width="2.40" stroke-linecap="square" stroke-linejoin="round"/>
<path d="M396.28 502.08 L398.83 502.11 L401.38 502.13 L403.93 502.16 L406.48 502.19 L409.03 502.21 L411.58 502.24 L414.13 502.26 L416.67 502.29 L419.22 502.31 L421.77 502.34 L424.32 502.36 L426.87 502.38 L429.42 502.41 L431.97 502.43 L434.52 502.46 L437.07 502.48 L439.62 502.51 L442.17 502.53 L444.72 502.55 L447.27 502.58 L449.82 502.60 L452.37 502.63 L454.91 502.65 L457.46 502.67 L460.01 502.70 L462.56 502.72 L465.11 502.74 L467.66 502.77 L470.21 502.79 L472.76 502.81 L475.31 502.84 L477.86 502.86 L480.41 502.88 L482.96 502.91 L485.51 502.93 L488.06 502.95 L490.61 502.98 L493.15 503.00 L495.70 503.02 L498.25 503.04 L500.80 503.07 L503.35 503.09 L505.90 503.11 L508.45 503.13 L511.00 503.15 L513.55 503.18 L516.10 503.20 L518.65 503.22 L521.20 503.24 L523.75 503.26 L526.30 503.29 L528.85 503.31 L531.39 503.33 L533.94 503.35 L536.49 503.37 L539.04 503.39 L541.59 503.41 L544.14 503.43 L546.69 503.46 L549.24 503.48 L551.79 503.50 L554.34 503.52 L556.89 503.54 L559.44 503.56 L561.99 503.58 L564.54 503.60 L567.09 503.62 L569.63 503.64 L572.18 503.66 L574.73 503.68 L577.28 503.70 L579.83 503.72 L582.38 503.74 L584.93 503.76 L587.48 503.78 L590.03 503.80 L592.58 503.82 L595.13 503.84 L597.68 503.86 L600.23 503.88 L602.78 503.90 L605.33 503.92 L607.87 503.94 L610.42 503.95 L612.97 503.97 L615.52 503.99 L618.07 504.01 L620.62 504.03 L623.17 504.05 L625.72 504.07" fill="none" stroke="#00A800" stroke-width="2.40" stroke-linecap="square" stroke-linejoin="round"/>
<path d="M396.28 563.23 L398.83 563.54 L401.38 563.85 L403.93 564.15 L406.48 564.43 L409.03 564.71 L411.58 564.98 L414.13 565.24 L416.67 565.49 L419.22 565.73 L421.77 565.96 L424.32 566.19 L426.87 566.41 L429.42 566.63 L431.97 566.84 L434.52 567.04 L437.07 567.24 L439.62 567.43 L442.17 567.61 L444.72 567.79 L447.27 567.97 L449.82 568.14 L452.37 568.31 L454.91 568.47 L457.46 568.63 L460.01 568.78 L462.56 568.93 L465.11 569.08 L467.66 569.22 L470.21 569.36 L472.76 569.50 L475.31 569.63 L477.86 569.76 L480.41 569.89 L482.96 570.01 L485.51 570.14 L488.06 570.26 L490.61 570.38 L493.15 570.49 L495.70 570.60 L498.25 570.72 L500.80 570.83 L503.35 570.93 L505.90 571.04 L508.45 571.14 L511.00 571.24 L513.55 571.35 L516.10 571.44 L518.65 571.54 L521.20 571.64 L523.75 571.73 L526.30 571.83 L528.85 571.92 L531.39 572.01 L533.94 572.10 L536.49 572.19 L539.04 572.27 L541.59 572.36 L544.14 572.44 L546.69 572.53 L549.24 572.61 L551.79 572.69 L554.34 572.77 L556.89 572.85 L559.44 572.93 L561.99 573.01 L564.54 573.09 L567.09 573.16 L569.63 573.24 L572.18 573.31 L574.73 573.38 L577.28 573.46 L579.83 573.53 L582.38 573.59 L584.93 573.66 L587.48 573.73 L590.03 573.80 L592.58 573.86 L595.13 573.92 L597.68 573.99 L600.23 574.05 L602.78 574.11 L605.33 574.17 L607.87 574.22 L610.42 574.28 L612.97 574.33 L615.52 574.38 L618.07 574.43 L620.62 574.48 L623.17 574.53 L625.72 574.58" fill="none" stroke="#0000FF" stroke-width="2.40" stroke-linecap="square" stroke-linejoin="round"/>
<path d="M396.28 445.57 L398.83 445.41 L401.38 445.26 L403.93 445.11 L406.48 444.97 L409.03 444.84 L411.58 444.71 L414.13 444.58 L416.67 444.47 L419.22 444.35 L421.77 444.24 L424.32 444.14 L426.87 444.04 L429.42 443.94 L431.97 443.85 L434.52 443.76 L437.07 443.68 L439.62 443.60 L442.17 443.52 L444.72 443.44 L447.27 443.37 L449.82 443.30 L452.37 443.24 L454.91 443.18 L457.46 443.12 L460.01 443.06 L462.56 443.00 L465.11 442.95 L467.66 442.90 L470.21 442.85 L472.76 442.80 L475.31 442.76 L477.86 442.72 L480.41 442.68 L482.96 442.64 L485.51 442.60 L488.06 442.57 L490.61 442.53 L493.15 442.50 L495.70 442.47 L498.25 442.44 L500.80 442.41 L503.35 442.38 L505.90 442.36 L508.45 442.33 L511.00 442.31 L513.55 442.29 L516.10 442.27 L518.65 442.25 L521.20 442.23 L523.75 442.21 L526.30 442.19 L528.85 442.17 L531.39 442.16 L533.94 442.14 L536.49 442.13 L539.04 442.11 L541.59 442.10 L544.14 442.09 L546.69 442.08 L549.24 442.07 L551.79 442.05 L554.34 442.04 L556.89 442.03 L559.44 442.02 L561.99 442.02 L564.54 442.01 L567.09 442.00 L569.63 441.99 L572.18 441.98 L574.73 441.98 L577.28 441.97 L579.83 441.96 L582.38 441.96 L584.93 441.95 L587.48 441.94 L590.03 441.94 L592.58 441.93 L595.13 441.93 L597.68 441.92 L600.23 441.92 L602.78 441.91 L605.33 441.91 L607.87 441.91 L610.42 441.90 L612.97 441.90 L615.52 441.89 L618.07 441.89 L620.62 441.89 L623.17 441.89 L625.72 441.88" fill="none" stroke="#000000" stroke-width="2.40" stroke-linecap="square" stroke-linejoin="round"/>
<path d="M396.28 582.00v-1.70 M409.03 582.00v-1.70 M421.77 582.00v-2.90 M434.52 582.00v-1.70 M447.27 582.00v-1.70 M460.01 582.00v-1.70 M472.76 582.00v-2.90 M485.51 582.00v-1.70 M498.25 582.00v-1.70 M511.00 582.00v-1.70 M523.75 582.00v-2.90 M536.49 582.00v-1.70 M549.24 582.00v-1.70 M561.99 582.00v-1.70 M574.73 582.00v-2.90 M587.48 582.00v-1.70 M600.23 582.00v-1.70 M612.97 582.00v-1.70 M625.72 582.00v-2.90 M391.50 579.27h1.70 M391.50 573.62h1.70 M391.50 567.98h2.90 M391.50 562.33h1.70 M391.50 556.68h1.70 M391.50 551.03h1.70 M391.50 545.39h2.90 M391.50 539.74h1.70 M391.50 534.09h1.70 M391.50 528.45h1.70 M391.50 522.80h2.90 M391.50 517.15h1.70 M391.50 511.51h1.70 M391.50 505.86h1.70 M391.50 500.21h2.90 M391.50 494.56h1.70 M391.50 488.92h1.70 M391.50 483.27h1.70 M391.50 477.62h2.90 M391.50 471.98h1.70 M391.50 466.33h1.70 M391.50 460.68h1.70 M391.50 455.04h2.90 M391.50 449.39h1.70 M391.50 443.74h1.70 M391.50 438.09h1.70" fill="none" stroke="#333" stroke-width="0.8"/>
<path d="M396.28 434.60v1.70 M409.03 434.60v1.70 M421.77 434.60v2.90 M434.52 434.60v1.70 M447.27 434.60v1.70 M460.01 434.60v1.70 M472.76 434.60v2.90 M485.51 434.60v1.70 M498.25 434.60v1.70 M511.00 434.60v1.70 M523.75 434.60v2.90 M536.49 434.60v1.70 M549.24 434.60v1.70 M561.99 434.60v1.70 M574.73 434.60v2.90 M587.48 434.60v1.70 M600.23 434.60v1.70 M612.97 434.60v1.70 M625.72 434.60v2.90 M630.50 579.27h-1.70 M630.50 573.62h-1.70 M630.50 567.98h-2.90 M630.50 562.33h-1.70 M630.50 556.68h-1.70 M630.50 551.03h-1.70 M630.50 545.39h-2.90 M630.50 539.74h-1.70 M630.50 534.09h-1.70 M630.50 528.45h-1.70 M630.50 522.80h-2.90 M630.50 517.15h-1.70 M630.50 511.51h-1.70 M630.50 505.86h-1.70 M630.50 500.21h-2.90 M630.50 494.56h-1.70 M630.50 488.92h-1.70 M630.50 483.27h-1.70 M630.50 477.62h-2.90 M630.50 471.98h-1.70 M630.50 466.33h-1.70 M630.50 460.68h-1.70 M630.50 455.04h-2.90 M630.50 449.39h-1.70 M630.50 443.74h-1.70 M630.50 438.09h-1.70" fill="none" stroke="#555" stroke-width="0.6"/>
<rect x="391.50" y="434.60" width="239.00" height="147.40" fill="none" stroke="#5a5a5a" stroke-width="1"/>
<text transform="translate(387.50,571.28) scale(0.13330)" text-anchor="end" font-size="100">−0.04</text>
<text transform="translate(387.50,548.69) scale(0.13330)" text-anchor="end" font-size="100">−0.02</text>
<text transform="translate(387.50,526.10) scale(0.13330)" text-anchor="end" font-size="100">0.00</text>
<text transform="translate(387.50,503.51) scale(0.13330)" text-anchor="end" font-size="100">0.02</text>
<text transform="translate(387.50,480.92) scale(0.13330)" text-anchor="end" font-size="100">0.04</text>
<text transform="translate(387.50,458.34) scale(0.13330)" text-anchor="end" font-size="100">0.06</text>
<text transform="translate(421.77,595.40) scale(0.13330)" text-anchor="middle" font-size="100">60</text>
<text transform="translate(472.76,595.40) scale(0.13330)" text-anchor="middle" font-size="100">80</text>
<text transform="translate(523.75,595.40) scale(0.13330)" text-anchor="middle" font-size="100">100</text>
<text transform="translate(574.73,595.40) scale(0.13330)" text-anchor="middle" font-size="100">120</text>
<text transform="translate(625.72,595.40) scale(0.13330)" text-anchor="middle" font-size="100">140</text>
<path d="M686.07 510.38 L688.61 510.28 L691.15 510.18 L693.70 510.09 L696.24 510.00 L698.78 509.91 L701.33 509.83 L703.87 509.75 L706.41 509.67 L708.95 509.60 L711.50 509.53 L714.04 509.46 L716.58 509.39 L719.13 509.32 L721.67 509.26 L724.21 509.20 L726.75 509.14 L729.30 509.08 L731.84 509.03 L734.38 508.98 L736.93 508.93 L739.47 508.88 L742.01 508.83 L744.56 508.78 L747.10 508.74 L749.64 508.70 L752.18 508.65 L754.73 508.61 L757.27 508.58 L759.81 508.54 L762.36 508.50 L764.90 508.47 L767.44 508.43 L769.98 508.40 L772.53 508.37 L775.07 508.34 L777.61 508.31 L780.16 508.28 L782.70 508.25 L785.24 508.22 L787.79 508.20 L790.33 508.17 L792.87 508.15 L795.41 508.13 L797.96 508.10 L800.50 508.08 L803.04 508.06 L805.59 508.04 L808.13 508.02 L810.67 508.00 L813.21 507.98 L815.76 507.96 L818.30 507.94 L820.84 507.92 L823.39 507.91 L825.93 507.89 L828.47 507.88 L831.02 507.86 L833.56 507.84 L836.10 507.83 L838.64 507.82 L841.19 507.80 L843.73 507.79 L846.27 507.78 L848.82 507.76 L851.36 507.75 L853.90 507.74 L856.44 507.73 L858.99 507.71 L861.53 507.70 L864.07 507.69 L866.62 507.68 L869.16 507.67 L871.70 507.66 L874.25 507.65 L876.79 507.64 L879.33 507.63 L881.87 507.62 L884.42 507.62 L886.96 507.61 L889.50 507.60 L892.05 507.59 L894.59 507.58 L897.13 507.58 L899.67 507.57 L902.22 507.56 L904.76 507.56 L907.30 507.55 L909.85 507.55 L912.39 507.54 L914.93 507.54" fill="none" stroke="#FF0000" stroke-width="2.40" stroke-linecap="square" stroke-linejoin="round"/>
<path d="M686.07 505.68 L688.61 505.74 L691.15 505.80 L693.70 505.86 L696.24 505.92 L698.78 505.98 L701.33 506.04 L703.87 506.10 L706.41 506.15 L708.95 506.21 L711.50 506.27 L714.04 506.32 L716.58 506.38 L719.13 506.43 L721.67 506.49 L724.21 506.54 L726.75 506.59 L729.30 506.65 L731.84 506.70 L734.38 506.75 L736.93 506.80 L739.47 506.85 L742.01 506.90 L744.56 506.95 L747.10 507.00 L749.64 507.04 L752.18 507.09 L754.73 507.14 L757.27 507.18 L759.81 507.23 L762.36 507.28 L764.90 507.32 L767.44 507.36 L769.98 507.41 L772.53 507.45 L775.07 507.49 L777.61 507.54 L780.16 507.58 L782.70 507.62 L785.24 507.66 L787.79 507.70 L790.33 507.74 L792.87 507.78 L795.41 507.82 L797.96 507.86 L800.50 507.90 L803.04 507.94 L805.59 507.97 L808.13 508.01 L810.67 508.05 L813.21 508.08 L815.76 508.12 L818.30 508.16 L820.84 508.19 L823.39 508.23 L825.93 508.26 L828.47 508.29 L831.02 508.33 L833.56 508.36 L836.10 508.39 L838.64 508.43 L841.19 508.46 L843.73 508.49 L846.27 508.52 L848.82 508.56 L851.36 508.59 L853.90 508.62 L856.44 508.65 L858.99 508.68 L861.53 508.71 L864.07 508.74 L866.62 508.77 L869.16 508.80 L871.70 508.83 L874.25 508.86 L876.79 508.89 L879.33 508.92 L881.87 508.95 L884.42 508.97 L886.96 509.00 L889.50 509.03 L892.05 509.06 L894.59 509.09 L897.13 509.12 L899.67 509.14 L902.22 509.17 L904.76 509.20 L907.30 509.23 L909.85 509.25 L912.39 509.28 L914.93 509.31" fill="none" stroke="#00A800" stroke-width="2.40" stroke-linecap="square" stroke-linejoin="round"/>
<path d="M686.07 561.87 L688.61 562.23 L691.15 562.57 L693.70 562.90 L696.24 563.23 L698.78 563.54 L701.33 563.85 L703.87 564.14 L706.41 564.43 L708.95 564.71 L711.50 564.98 L714.04 565.25 L716.58 565.50 L719.13 565.75 L721.67 566.00 L724.21 566.23 L726.75 566.46 L729.30 566.69 L731.84 566.90 L734.38 567.12 L736.93 567.32 L739.47 567.52 L742.01 567.72 L744.56 567.91 L747.10 568.10 L749.64 568.28 L752.18 568.46 L754.73 568.63 L757.27 568.80 L759.81 568.97 L762.36 569.13 L764.90 569.28 L767.44 569.44 L769.98 569.59 L772.53 569.74 L775.07 569.88 L777.61 570.02 L780.16 570.16 L782.70 570.30 L785.24 570.43 L787.79 570.56 L790.33 570.68 L792.87 570.81 L795.41 570.93 L797.96 571.05 L800.50 571.17 L803.04 571.29 L805.59 571.40 L808.13 571.51 L810.67 571.62 L813.21 571.73 L815.76 571.83 L818.30 571.94 L820.84 572.04 L823.39 572.14 L825.93 572.24 L828.47 572.34 L831.02 572.43 L833.56 572.53 L836.10 572.62 L838.64 572.71 L841.19 572.80 L843.73 572.89 L846.27 572.98 L848.82 573.06 L851.36 573.15 L853.90 573.23 L856.44 573.31 L858.99 573.40 L861.53 573.47 L864.07 573.55 L866.62 573.63 L869.16 573.71 L871.70 573.78 L874.25 573.86 L876.79 573.93 L879.33 574.00 L881.87 574.07 L884.42 574.14 L886.96 574.21 L889.50 574.27 L892.05 574.34 L894.59 574.40 L897.13 574.46 L899.67 574.52 L902.22 574.58 L904.76 574.64 L907.30 574.70 L909.85 574.75 L912.39 574.80 L914.93 574.86" fill="none" stroke="#0000FF" stroke-width="2.40" stroke-linecap="square" stroke-linejoin="round"/>
<path d="M686.07 441.74 L688.61 441.74 L691.15 441.75 L693.70 441.76 L696.24 441.77 L698.78 441.79 L701.33 441.80 L703.87 441.82 L706.41 441.84 L708.95 441.86 L711.50 441.89 L714.04 441.91 L716.58 441.94 L719.13 441.96 L721.67 441.99 L724.21 442.02 L726.75 442.05 L729.30 442.09 L731.84 442.12 L734.38 442.15 L736.93 442.19 L739.47 442.22 L742.01 442.26 L744.56 442.30 L747.10 442.34 L749.64 442.38 L752.18 442.42 L754.73 442.46 L757.27 442.50 L759.81 442.54 L762.36 442.58 L764.90 442.62 L767.44 442.66 L769.98 442.70 L772.53 442.75 L775.07 442.79 L777.61 442.83 L780.16 442.88 L782.70 442.92 L785.24 442.97 L787.79 443.01 L790.33 443.05 L792.87 443.10 L795.41 443.14 L797.96 443.19 L800.50 443.23 L803.04 443.28 L805.59 443.32 L808.13 443.37 L810.67 443.41 L813.21 443.46 L815.76 443.50 L818.30 443.55 L820.84 443.59 L823.39 443.64 L825.93 443.68 L828.47 443.73 L831.02 443.77 L833.56 443.81 L836.10 443.86 L838.64 443.90 L841.19 443.95 L843.73 443.99 L846.27 444.04 L848.82 444.08 L851.36 444.12 L853.90 444.17 L856.44 444.21 L858.99 444.25 L861.53 444.30 L864.07 444.34 L866.62 444.38 L869.16 444.42 L871.70 444.47 L874.25 444.51 L876.79 444.55 L879.33 444.59 L881.87 444.63 L884.42 444.68 L886.96 444.72 L889.50 444.76 L892.05 444.80 L894.59 444.84 L897.13 444.89 L899.67 444.93 L902.22 444.97 L904.76 445.01 L907.30 445.05 L909.85 445.09 L912.39 445.14 L914.93 445.18" fill="none" stroke="#000000" stroke-width="2.40" stroke-linecap="square" stroke-linejoin="round"/>
<path d="M686.07 582.00v-1.70 M698.78 582.00v-1.70 M711.50 582.00v-2.90 M724.21 582.00v-1.70 M736.93 582.00v-1.70 M749.64 582.00v-1.70 M762.36 582.00v-2.90 M775.07 582.00v-1.70 M787.79 582.00v-1.70 M800.50 582.00v-1.70 M813.21 582.00v-2.90 M825.93 582.00v-1.70 M838.64 582.00v-1.70 M851.36 582.00v-1.70 M864.07 582.00v-2.90 M876.79 582.00v-1.70 M889.50 582.00v-1.70 M902.22 582.00v-1.70 M914.93 582.00v-2.90 M681.30 581.44h1.70 M681.30 575.30h2.90 M681.30 569.16h1.70 M681.30 563.03h1.70 M681.30 556.89h1.70 M681.30 550.75h2.90 M681.30 544.61h1.70 M681.30 538.48h1.70 M681.30 532.34h1.70 M681.30 526.20h2.90 M681.30 520.06h1.70 M681.30 513.93h1.70 M681.30 507.79h1.70 M681.30 501.65h2.90 M681.30 495.51h1.70 M681.30 489.38h1.70 M681.30 483.24h1.70 M681.30 477.10h2.90 M681.30 470.96h1.70 M681.30 464.83h1.70 M681.30 458.69h1.70 M681.30 452.55h2.90 M681.30 446.41h1.70 M681.30 440.28h1.70" fill="none" stroke="#333" stroke-width="0.8"/>
<path d="M686.07 434.60v1.70 M698.78 434.60v1.70 M711.50 434.60v2.90 M724.21 434.60v1.70 M736.93 434.60v1.70 M749.64 434.60v1.70 M762.36 434.60v2.90 M775.07 434.60v1.70 M787.79 434.60v1.70 M800.50 434.60v1.70 M813.21 434.60v2.90 M825.93 434.60v1.70 M838.64 434.60v1.70 M851.36 434.60v1.70 M864.07 434.60v2.90 M876.79 434.60v1.70 M889.50 434.60v1.70 M902.22 434.60v1.70 M914.93 434.60v2.90 M919.70 581.44h-1.70 M919.70 575.30h-2.90 M919.70 569.16h-1.70 M919.70 563.03h-1.70 M919.70 556.89h-1.70 M919.70 550.75h-2.90 M919.70 544.61h-1.70 M919.70 538.48h-1.70 M919.70 532.34h-1.70 M919.70 526.20h-2.90 M919.70 520.06h-1.70 M919.70 513.93h-1.70 M919.70 507.79h-1.70 M919.70 501.65h-2.90 M919.70 495.51h-1.70 M919.70 489.38h-1.70 M919.70 483.24h-1.70 M919.70 477.10h-2.90 M919.70 470.96h-1.70 M919.70 464.83h-1.70 M919.70 458.69h-1.70 M919.70 452.55h-2.90 M919.70 446.41h-1.70 M919.70 440.28h-1.70" fill="none" stroke="#555" stroke-width="0.6"/>
<rect x="681.30" y="434.60" width="238.40" height="147.40" fill="none" stroke="#5a5a5a" stroke-width="1"/>
<text transform="translate(677.30,578.60) scale(0.13330)" text-anchor="end" font-size="100">−0.04</text>
<text transform="translate(677.30,554.05) scale(0.13330)" text-anchor="end" font-size="100">−0.02</text>
<text transform="translate(677.30,529.50) scale(0.13330)" text-anchor="end" font-size="100">0.00</text>
<text transform="translate(677.30,504.95) scale(0.13330)" text-anchor="end" font-size="100">0.02</text>
<text transform="translate(677.30,480.40) scale(0.13330)" text-anchor="end" font-size="100">0.04</text>
<text transform="translate(677.30,455.85) scale(0.13330)" text-anchor="end" font-size="100">0.06</text>
<text transform="translate(711.50,595.40) scale(0.13330)" text-anchor="middle" font-size="100">60</text>
<text transform="translate(762.36,595.40) scale(0.13330)" text-anchor="middle" font-size="100">80</text>
<text transform="translate(813.21,595.40) scale(0.13330)" text-anchor="middle" font-size="100">100</text>
<text transform="translate(864.07,595.40) scale(0.13330)" text-anchor="middle" font-size="100">120</text>
<text transform="translate(914.93,595.40) scale(0.13330)" text-anchor="middle" font-size="100">140</text>
<path d="M111.77 662.48 L114.27 661.91 L116.76 661.39 L119.25 660.91 L121.75 660.47 L124.24 660.07 L126.73 659.70 L129.22 659.36 L131.72 659.06 L134.21 658.79 L136.70 658.55 L139.19 658.33 L141.69 658.14 L144.18 657.98 L146.67 657.84 L149.17 657.72 L151.66 657.62 L154.15 657.55 L156.64 657.49 L159.14 657.45 L161.63 657.43 L164.12 657.42 L166.62 657.43 L169.11 657.45 L171.60 657.49 L174.09 657.54 L176.59 657.60 L179.08 657.68 L181.57 657.76 L184.07 657.86 L186.56 657.96 L189.05 658.07 L191.54 658.20 L194.04 658.33 L196.53 658.46 L199.02 658.61 L201.51 658.76 L204.01 658.91 L206.50 659.07 L208.99 659.24 L211.49 659.41 L213.98 659.59 L216.47 659.77 L218.96 659.95 L221.46 660.14 L223.95 660.33 L226.44 660.52 L228.94 660.72 L231.43 660.92 L233.92 661.12 L236.41 661.32 L238.91 661.53 L241.40 661.73 L243.89 661.94 L246.39 662.15 L248.88 662.36 L251.37 662.57 L253.86 662.78 L256.36 663.00 L258.85 663.21 L261.34 663.43 L263.83 663.64 L266.33 663.86 L268.82 664.08 L271.31 664.30 L273.81 664.52 L276.30 664.74 L278.79 664.96 L281.28 665.19 L283.78 665.41 L286.27 665.64 L288.76 665.87 L291.26 666.09 L293.75 666.33 L296.24 666.56 L298.73 666.79 L301.23 667.03 L303.72 667.27 L306.21 667.52 L308.71 667.76 L311.20 668.01 L313.69 668.26 L316.18 668.52 L318.68 668.78 L321.17 669.04 L323.66 669.31 L326.15 669.59 L328.65 669.87 L331.14 670.15 L333.63 670.44 L336.13 670.74" fill="none" stroke="#00A800" stroke-width="2.40" stroke-linecap="square" stroke-linejoin="round"/>
<path d="M111.77 738.18 L114.27 734.87 L116.76 731.68 L119.25 728.59 L121.75 725.60 L124.24 722.70 L126.73 719.90 L129.22 717.18 L131.72 714.55 L134.21 712.00 L136.70 709.53 L139.19 707.13 L141.69 704.80 L144.18 702.54 L146.67 700.35 L149.17 698.22 L151.66 696.16 L154.15 694.15 L156.64 692.20 L159.14 690.30 L161.63 688.46 L164.12 686.66 L166.62 684.92 L169.11 683.22 L171.60 681.57 L174.09 679.96 L176.59 678.39 L179.08 676.86 L181.57 675.37 L184.07 673.91 L186.56 672.49 L189.05 671.11 L191.54 669.75 L194.04 668.43 L196.53 667.14 L199.02 665.88 L201.51 664.64 L204.01 663.43 L206.50 662.25 L208.99 661.09 L211.49 659.96 L213.98 658.85 L216.47 657.76 L218.96 656.69 L221.46 655.64 L223.95 654.62 L226.44 653.61 L228.94 652.62 L231.43 651.64 L233.92 650.69 L236.41 649.75 L238.91 648.82 L241.40 647.92 L243.89 647.02 L246.39 646.14 L248.88 645.28 L251.37 644.43 L253.86 643.59 L256.36 642.77 L258.85 641.96 L261.34 641.16 L263.83 640.37 L266.33 639.60 L268.82 638.83 L271.31 638.08 L273.81 637.35 L276.30 636.62 L278.79 635.91 L281.28 635.20 L283.78 634.51 L286.27 633.84 L288.76 633.17 L291.26 632.52 L293.75 631.87 L296.24 631.24 L298.73 630.63 L301.23 630.03 L303.72 629.44 L306.21 628.86 L308.71 628.30 L311.20 627.75 L313.69 627.22 L316.18 626.70 L318.68 626.20 L321.17 625.71 L323.66 625.24 L326.15 624.79 L328.65 624.35 L331.14 623.93 L333.63 623.53 L336.13 623.15" fill="none" stroke="#FF0000" stroke-width="2.40" stroke-linecap="square" stroke-linejoin="round"/>
<path d="M111.77 744.79 L114.27 741.42 L116.76 738.16 L119.25 734.99 L121.75 731.92 L124.24 728.94 L126.73 726.04 L129.22 723.22 L131.72 720.49 L134.21 717.83 L136.70 715.24 L139.19 712.72 L141.69 710.28 L144.18 707.89 L146.67 705.57 L149.17 703.31 L151.66 701.11 L154.15 698.96 L156.64 696.86 L159.14 694.82 L161.63 692.83 L164.12 690.88 L166.62 688.98 L169.11 687.13 L171.60 685.31 L174.09 683.54 L176.59 681.81 L179.08 680.11 L181.57 678.45 L184.07 676.82 L186.56 675.23 L189.05 673.67 L191.54 672.14 L194.04 670.64 L196.53 669.17 L199.02 667.73 L201.51 666.31 L204.01 664.92 L206.50 663.56 L208.99 662.22 L211.49 660.90 L213.98 659.60 L216.47 658.32 L218.96 657.07 L221.46 655.83 L223.95 654.61 L226.44 653.41 L228.94 652.23 L231.43 651.07 L233.92 649.92 L236.41 648.79 L238.91 647.67 L241.40 646.57 L243.89 645.49 L246.39 644.41 L248.88 643.36 L251.37 642.31 L253.86 641.28 L256.36 640.27 L258.85 639.26 L261.34 638.27 L263.83 637.30 L266.33 636.33 L268.82 635.38 L271.31 634.44 L273.81 633.51 L276.30 632.60 L278.79 631.70 L281.28 630.81 L283.78 629.93 L286.27 629.06 L288.76 628.21 L291.26 627.38 L293.75 626.55 L296.24 625.74 L298.73 624.94 L301.23 624.16 L303.72 623.39 L306.21 622.64 L308.71 621.90 L311.20 621.18 L313.69 620.47 L316.18 619.78 L318.68 619.11 L321.17 618.46 L323.66 617.82 L326.15 617.20 L328.65 616.60 L331.14 616.02 L333.63 615.46 L336.13 614.93" fill="none" stroke="#0000FF" stroke-width="2.40" stroke-linecap="square" stroke-linejoin="round"/>
<path d="M111.77 705.97 L114.27 703.79 L116.76 701.70 L119.25 699.70 L121.75 697.79 L124.24 695.96 L126.73 694.20 L129.22 692.51 L131.72 690.90 L134.21 689.34 L136.70 687.85 L139.19 686.42 L141.69 685.04 L144.18 683.71 L146.67 682.43 L149.17 681.20 L151.66 680.01 L154.15 678.87 L156.64 677.76 L159.14 676.70 L161.63 675.67 L164.12 674.67 L166.62 673.71 L169.11 672.78 L171.60 671.88 L174.09 671.00 L176.59 670.15 L179.08 669.33 L181.57 668.53 L184.07 667.76 L186.56 667.01 L189.05 666.27 L191.54 665.56 L194.04 664.86 L196.53 664.19 L199.02 663.52 L201.51 662.88 L204.01 662.25 L206.50 661.63 L208.99 661.03 L211.49 660.44 L213.98 659.86 L216.47 659.29 L218.96 658.73 L221.46 658.18 L223.95 657.64 L226.44 657.11 L228.94 656.59 L231.43 656.08 L233.92 655.57 L236.41 655.08 L238.91 654.58 L241.40 654.10 L243.89 653.62 L246.39 653.15 L248.88 652.68 L251.37 652.21 L253.86 651.76 L256.36 651.30 L258.85 650.86 L261.34 650.41 L263.83 649.98 L266.33 649.54 L268.82 649.11 L271.31 648.69 L273.81 648.27 L276.30 647.85 L278.79 647.44 L281.28 647.03 L283.78 646.63 L286.27 646.24 L288.76 645.84 L291.26 645.46 L293.75 645.08 L296.24 644.70 L298.73 644.33 L301.23 643.97 L303.72 643.61 L306.21 643.26 L308.71 642.92 L311.20 642.58 L313.69 642.26 L316.18 641.94 L318.68 641.63 L321.17 641.33 L323.66 641.04 L326.15 640.76 L328.65 640.49 L331.14 640.23 L333.63 639.98 L336.13 639.75" fill="none" stroke="#000000" stroke-width="2.40" stroke-linecap="square" stroke-linejoin="round"/>
<path d="M111.77 752.30v-1.70 M124.24 752.30v-1.70 M136.70 752.30v-2.90 M149.17 752.30v-1.70 M161.63 752.30v-1.70 M174.09 752.30v-1.70 M186.56 752.30v-2.90 M199.02 752.30v-1.70 M211.49 752.30v-1.70 M223.95 752.30v-1.70 M236.41 752.30v-2.90 M248.88 752.30v-1.70 M261.34 752.30v-1.70 M273.81 752.30v-1.70 M286.27 752.30v-2.90 M298.73 752.30v-1.70 M311.20 752.30v-1.70 M323.66 752.30v-1.70 M336.13 752.30v-2.90 M107.10 749.39h1.70 M107.10 744.30h2.90 M107.10 739.21h1.70 M107.10 734.13h1.70 M107.10 729.04h1.70 M107.10 723.96h1.70 M107.10 718.87h2.90 M107.10 713.78h1.70 M107.10 708.70h1.70 M107.10 703.61h1.70 M107.10 698.53h1.70 M107.10 693.44h2.90 M107.10 688.35h1.70 M107.10 683.27h1.70 M107.10 678.18h1.70 M107.10 673.10h1.70 M107.10 668.01h2.90 M107.10 662.92h1.70 M107.10 657.84h1.70 M107.10 652.75h1.70 M107.10 647.67h1.70 M107.10 642.58h2.90 M107.10 637.49h1.70 M107.10 632.41h1.70 M107.10 627.32h1.70 M107.10 622.24h1.70 M107.10 617.15h2.90 M107.10 612.06h1.70" fill="none" stroke="#333" stroke-width="0.8"/>
<path d="M111.77 607.70v1.70 M124.24 607.70v1.70 M136.70 607.70v2.90 M149.17 607.70v1.70 M161.63 607.70v1.70 M174.09 607.70v1.70 M186.56 607.70v2.90 M199.02 607.70v1.70 M211.49 607.70v1.70 M223.95 607.70v1.70 M236.41 607.70v2.90 M248.88 607.70v1.70 M261.34 607.70v1.70 M273.81 607.70v1.70 M286.27 607.70v2.90 M298.73 607.70v1.70 M311.20 607.70v1.70 M323.66 607.70v1.70 M336.13 607.70v2.90 M340.80 749.39h-1.70 M340.80 744.30h-2.90 M340.80 739.21h-1.70 M340.80 734.13h-1.70 M340.80 729.04h-1.70 M340.80 723.96h-1.70 M340.80 718.87h-2.90 M340.80 713.78h-1.70 M340.80 708.70h-1.70 M340.80 703.61h-1.70 M340.80 698.53h-1.70 M340.80 693.44h-2.90 M340.80 688.35h-1.70 M340.80 683.27h-1.70 M340.80 678.18h-1.70 M340.80 673.10h-1.70 M340.80 668.01h-2.90 M340.80 662.92h-1.70 M340.80 657.84h-1.70 M340.80 652.75h-1.70 M340.80 647.67h-1.70 M340.80 642.58h-2.90 M340.80 637.49h-1.70 M340.80 632.41h-1.70 M340.80 627.32h-1.70 M340.80 622.24h-1.70 M340.80 617.15h-2.90 M340.80 612.06h-1.70" fill="none" stroke="#555" stroke-width="0.6"/>
<rect x="107.10" y="607.70" width="233.70" height="144.60" fill="none" stroke="#5a5a5a" stroke-width="1"/>
<text transform="translate(103.10,747.60) scale(0.13330)" text-anchor="end" font-size="100">0.0095</text>
<text transform="translate(103.10,722.17) scale(0.13330)" text-anchor="end" font-size="100">0.0100</text>
<text transform="translate(103.10,696.74) scale(0.13330)" text-anchor="end" font-size="100">0.0105</text>
<text transform="translate(103.10,671.31) scale(0.13330)" text-anchor="end" font-size="100">0.0110</text>
<text transform="translate(103.10,645.88) scale(0.13330)" text-anchor="end" font-size="100">0.0115</text>
<text transform="translate(103.10,620.45) scale(0.13330)" text-anchor="end" font-size="100">0.0120</text>
<text transform="translate(136.70,765.70) scale(0.13330)" text-anchor="middle" font-size="100">60</text>
<text transform="translate(186.56,765.70) scale(0.13330)" text-anchor="middle" font-size="100">80</text>
<text transform="translate(236.41,765.70) scale(0.13330)" text-anchor="middle" font-size="100">100</text>
<text transform="translate(286.27,765.70) scale(0.13330)" text-anchor="middle" font-size="100">120</text>
<text transform="translate(336.13,765.70) scale(0.13330)" text-anchor="middle" font-size="100">140</text>
<path d="M401.18 632.38 L403.68 633.10 L406.17 633.82 L408.67 634.53 L411.16 635.23 L413.66 635.94 L416.16 636.63 L418.65 637.33 L421.15 638.02 L423.64 638.71 L426.14 639.40 L428.64 640.09 L431.13 640.77 L433.63 641.46 L436.12 642.14 L438.62 642.81 L441.12 643.49 L443.61 644.17 L446.11 644.84 L448.60 645.51 L451.10 646.18 L453.60 646.85 L456.09 647.51 L458.59 648.17 L461.08 648.84 L463.58 649.50 L466.08 650.15 L468.57 650.81 L471.07 651.46 L473.56 652.11 L476.06 652.76 L478.56 653.41 L481.05 654.06 L483.55 654.70 L486.04 655.34 L488.54 655.98 L491.04 656.62 L493.53 657.25 L496.03 657.89 L498.52 658.52 L501.02 659.14 L503.52 659.77 L506.01 660.39 L508.51 661.01 L511.00 661.63 L513.50 662.25 L516.00 662.86 L518.49 663.47 L520.99 664.08 L523.48 664.69 L525.98 665.30 L528.48 665.90 L530.97 666.50 L533.47 667.10 L535.96 667.69 L538.46 668.29 L540.96 668.88 L543.45 669.46 L545.95 670.05 L548.44 670.63 L550.94 671.22 L553.44 671.80 L555.93 672.37 L558.43 672.95 L560.92 673.52 L563.42 674.09 L565.92 674.66 L568.41 675.22 L570.91 675.79 L573.40 676.35 L575.90 676.91 L578.40 677.47 L580.89 678.02 L583.39 678.58 L585.88 679.13 L588.38 679.68 L590.88 680.23 L593.37 680.77 L595.87 681.32 L598.36 681.86 L600.86 682.40 L603.36 682.94 L605.85 683.47 L608.35 684.01 L610.84 684.54 L613.34 685.08 L615.84 685.61 L618.33 686.14 L620.83 686.67 L623.32 687.19 L625.82 687.72" fill="none" stroke="#00A800" stroke-width="2.40" stroke-linecap="square" stroke-linejoin="round"/>
<path d="M401.18 728.16 L403.68 724.98 L406.17 721.91 L408.67 718.95 L411.16 716.11 L413.66 713.36 L416.16 710.72 L418.65 708.17 L421.15 705.71 L423.64 703.34 L426.14 701.05 L428.64 698.85 L431.13 696.71 L433.63 694.66 L436.12 692.67 L438.62 690.75 L441.12 688.89 L443.61 687.09 L446.11 685.36 L448.60 683.68 L451.10 682.05 L453.60 680.48 L456.09 678.95 L458.59 677.48 L461.08 676.05 L463.58 674.66 L466.08 673.32 L468.57 672.01 L471.07 670.74 L473.56 669.52 L476.06 668.32 L478.56 667.16 L481.05 666.03 L483.55 664.94 L486.04 663.87 L488.54 662.83 L491.04 661.82 L493.53 660.84 L496.03 659.87 L498.52 658.94 L501.02 658.02 L503.52 657.13 L506.01 656.26 L508.51 655.41 L511.00 654.58 L513.50 653.76 L516.00 652.97 L518.49 652.19 L520.99 651.43 L523.48 650.68 L525.98 649.95 L528.48 649.23 L530.97 648.52 L533.47 647.83 L535.96 647.15 L538.46 646.49 L540.96 645.84 L543.45 645.20 L545.95 644.57 L548.44 643.95 L550.94 643.34 L553.44 642.74 L555.93 642.16 L558.43 641.58 L560.92 641.02 L563.42 640.47 L565.92 639.92 L568.41 639.39 L570.91 638.87 L573.40 638.35 L575.90 637.85 L578.40 637.36 L580.89 636.88 L583.39 636.41 L585.88 635.95 L588.38 635.51 L590.88 635.07 L593.37 634.65 L595.87 634.24 L598.36 633.84 L600.86 633.46 L603.36 633.09 L605.85 632.74 L608.35 632.40 L610.84 632.07 L613.34 631.76 L615.84 631.47 L618.33 631.19 L620.83 630.93 L623.32 630.69 L625.82 630.47" fill="none" stroke="#FF0000" stroke-width="2.40" stroke-linecap="square" stroke-linejoin="round"/>
<path d="M401.18 745.36 L403.68 741.72 L406.17 738.20 L408.67 734.79 L411.16 731.51 L413.66 728.33 L416.16 725.25 L418.65 722.28 L421.15 719.40 L423.64 716.61 L426.14 713.90 L428.64 711.28 L431.13 708.74 L433.63 706.27 L436.12 703.88 L438.62 701.55 L441.12 699.29 L443.61 697.10 L446.11 694.97 L448.60 692.89 L451.10 690.88 L453.60 688.91 L456.09 687.00 L458.59 685.13 L461.08 683.32 L463.58 681.55 L466.08 679.82 L468.57 678.13 L471.07 676.49 L473.56 674.88 L476.06 673.31 L478.56 671.77 L481.05 670.27 L483.55 668.80 L486.04 667.36 L488.54 665.95 L491.04 664.57 L493.53 663.22 L496.03 661.89 L498.52 660.59 L501.02 659.31 L503.52 658.05 L506.01 656.82 L508.51 655.60 L511.00 654.41 L513.50 653.23 L516.00 652.08 L518.49 650.94 L520.99 649.82 L523.48 648.72 L525.98 647.63 L528.48 646.56 L530.97 645.50 L533.47 644.46 L535.96 643.43 L538.46 642.41 L540.96 641.41 L543.45 640.42 L545.95 639.45 L548.44 638.48 L550.94 637.53 L553.44 636.59 L555.93 635.66 L558.43 634.75 L560.92 633.84 L563.42 632.95 L565.92 632.07 L568.41 631.20 L570.91 630.34 L573.40 629.49 L575.90 628.66 L578.40 627.84 L580.89 627.03 L583.39 626.23 L585.88 625.45 L588.38 624.67 L590.88 623.92 L593.37 623.17 L595.87 622.44 L598.36 621.72 L600.86 621.02 L603.36 620.34 L605.85 619.67 L608.35 619.02 L610.84 618.38 L613.34 617.76 L615.84 617.16 L618.33 616.58 L620.83 616.02 L623.32 615.48 L625.82 614.96" fill="none" stroke="#0000FF" stroke-width="2.40" stroke-linecap="square" stroke-linejoin="round"/>
<path d="M401.18 680.60 L403.68 679.51 L406.17 678.46 L408.67 677.46 L411.16 676.50 L413.66 675.58 L416.16 674.70 L418.65 673.85 L421.15 673.04 L423.64 672.26 L426.14 671.52 L428.64 670.80 L431.13 670.11 L433.63 669.46 L436.12 668.83 L438.62 668.22 L441.12 667.64 L443.61 667.09 L446.11 666.55 L448.60 666.04 L451.10 665.55 L453.60 665.08 L456.09 664.63 L458.59 664.20 L461.08 663.79 L463.58 663.39 L466.08 663.02 L468.57 662.65 L471.07 662.31 L473.56 661.97 L476.06 661.66 L478.56 661.35 L481.05 661.06 L483.55 660.79 L486.04 660.52 L488.54 660.27 L491.04 660.02 L493.53 659.79 L496.03 659.57 L498.52 659.36 L501.02 659.16 L503.52 658.96 L506.01 658.78 L508.51 658.60 L511.00 658.43 L513.50 658.27 L516.00 658.12 L518.49 657.98 L520.99 657.84 L523.48 657.70 L525.98 657.58 L528.48 657.46 L530.97 657.34 L533.47 657.23 L535.96 657.13 L538.46 657.03 L540.96 656.93 L543.45 656.84 L545.95 656.75 L548.44 656.67 L550.94 656.59 L553.44 656.52 L555.93 656.45 L558.43 656.38 L560.92 656.31 L563.42 656.25 L565.92 656.19 L568.41 656.13 L570.91 656.08 L573.40 656.03 L575.90 655.98 L578.40 655.93 L580.89 655.88 L583.39 655.84 L585.88 655.80 L588.38 655.76 L590.88 655.72 L593.37 655.68 L595.87 655.65 L598.36 655.62 L600.86 655.58 L603.36 655.55 L605.85 655.52 L608.35 655.50 L610.84 655.47 L613.34 655.45 L615.84 655.42 L618.33 655.40 L620.83 655.38 L623.32 655.36 L625.82 655.34" fill="none" stroke="#000000" stroke-width="2.40" stroke-linecap="square" stroke-linejoin="round"/>
<path d="M401.18 752.30v-1.70 M413.66 752.30v-1.70 M426.14 752.30v-2.90 M438.62 752.30v-1.70 M451.10 752.30v-1.70 M463.58 752.30v-1.70 M476.06 752.30v-2.90 M488.54 752.30v-1.70 M501.02 752.30v-1.70 M513.50 752.30v-1.70 M525.98 752.30v-2.90 M538.46 752.30v-1.70 M550.94 752.30v-1.70 M563.42 752.30v-1.70 M575.90 752.30v-2.90 M588.38 752.30v-1.70 M600.86 752.30v-1.70 M613.34 752.30v-1.70 M625.82 752.30v-2.90 M396.50 750.77h1.70 M396.50 745.84h1.70 M396.50 740.90h2.90 M396.50 735.96h1.70 M396.50 731.03h1.70 M396.50 726.09h1.70 M396.50 721.16h1.70 M396.50 716.22h2.90 M396.50 711.28h1.70 M396.50 706.35h1.70 M396.50 701.41h1.70 M396.50 696.48h1.70 M396.50 691.54h2.90 M396.50 686.60h1.70 M396.50 681.67h1.70 M396.50 676.73h1.70 M396.50 671.80h1.70 M396.50 666.86h2.90 M396.50 661.92h1.70 M396.50 656.99h1.70 M396.50 652.05h1.70 M396.50 647.12h1.70 M396.50 642.18h2.90 M396.50 637.24h1.70 M396.50 632.31h1.70 M396.50 627.37h1.70 M396.50 622.44h1.70 M396.50 617.50h2.90 M396.50 612.56h1.70" fill="none" stroke="#333" stroke-width="0.8"/>
<path d="M401.18 607.70v1.70 M413.66 607.70v1.70 M426.14 607.70v2.90 M438.62 607.70v1.70 M451.10 607.70v1.70 M463.58 607.70v1.70 M476.06 607.70v2.90 M488.54 607.70v1.70 M501.02 607.70v1.70 M513.50 607.70v1.70 M525.98 607.70v2.90 M538.46 607.70v1.70 M550.94 607.70v1.70 M563.42 607.70v1.70 M575.90 607.70v2.90 M588.38 607.70v1.70 M600.86 607.70v1.70 M613.34 607.70v1.70 M625.82 607.70v2.90 M630.50 750.77h-1.70 M630.50 745.84h-1.70 M630.50 740.90h-2.90 M630.50 735.96h-1.70 M630.50 731.03h-1.70 M630.50 726.09h-1.70 M630.50 721.16h-1.70 M630.50 716.22h-2.90 M630.50 711.28h-1.70 M630.50 706.35h-1.70 M630.50 701.41h-1.70 M630.50 696.48h-1.70 M630.50 691.54h-2.90 M630.50 686.60h-1.70 M630.50 681.67h-1.70 M630.50 676.73h-1.70 M630.50 671.80h-1.70 M630.50 666.86h-2.90 M630.50 661.92h-1.70 M630.50 656.99h-1.70 M630.50 652.05h-1.70 M630.50 647.12h-1.70 M630.50 642.18h-2.90 M630.50 637.24h-1.70 M630.50 632.31h-1.70 M630.50 627.37h-1.70 M630.50 622.44h-1.70 M630.50 617.50h-2.90 M630.50 612.56h-1.70" fill="none" stroke="#555" stroke-width="0.6"/>
<rect x="396.50" y="607.70" width="234.00" height="144.60" fill="none" stroke="#5a5a5a" stroke-width="1"/>
<text transform="translate(392.50,744.20) scale(0.13330)" text-anchor="end" font-size="100">0.0095</text>
<text transform="translate(392.50,719.52) scale(0.13330)" text-anchor="end" font-size="100">0.0100</text>
<text transform="translate(392.50,694.84) scale(0.13330)" text-anchor="end" font-size="100">0.0105</text>
<text transform="translate(392.50,670.16) scale(0.13330)" text-anchor="end" font-size="100">0.0110</text>
<text transform="translate(392.50,645.48) scale(0.13330)" text-anchor="end" font-size="100">0.0115</text>
<text transform="translate(392.50,620.80) scale(0.13330)" text-anchor="end" font-size="100">0.0120</text>
<text transform="translate(426.14,765.70) scale(0.13330)" text-anchor="middle" font-size="100">60</text>
<text transform="translate(476.06,765.70) scale(0.13330)" text-anchor="middle" font-size="100">80</text>
<text transform="translate(525.98,765.70) scale(0.13330)" text-anchor="middle" font-size="100">100</text>
<text transform="translate(575.90,765.70) scale(0.13330)" text-anchor="middle" font-size="100">120</text>
<text transform="translate(625.82,765.70) scale(0.13330)" text-anchor="middle" font-size="100">140</text>
<path d="M690.28 616.42 L692.78 617.85 L695.28 619.26 L697.77 620.66 L700.27 622.05 L702.77 623.43 L705.26 624.79 L707.76 626.14 L710.26 627.47 L712.76 628.79 L715.25 630.10 L717.75 631.39 L720.25 632.67 L722.74 633.94 L725.24 635.19 L727.74 636.43 L730.24 637.66 L732.73 638.87 L735.23 640.07 L737.73 641.26 L740.22 642.43 L742.72 643.59 L745.22 644.74 L747.71 645.88 L750.21 647.00 L752.71 648.11 L755.21 649.21 L757.70 650.29 L760.20 651.37 L762.70 652.43 L765.19 653.48 L767.69 654.52 L770.19 655.55 L772.69 656.56 L775.18 657.57 L777.68 658.56 L780.18 659.54 L782.67 660.51 L785.17 661.47 L787.67 662.42 L790.16 663.36 L792.66 664.29 L795.16 665.21 L797.66 666.11 L800.15 667.01 L802.65 667.90 L805.15 668.78 L807.64 669.65 L810.14 670.51 L812.64 671.36 L815.14 672.20 L817.63 673.04 L820.13 673.86 L822.63 674.68 L825.12 675.49 L827.62 676.29 L830.12 677.08 L832.61 677.86 L835.11 678.64 L837.61 679.41 L840.11 680.17 L842.60 680.92 L845.10 681.67 L847.60 682.41 L850.09 683.14 L852.59 683.87 L855.09 684.59 L857.59 685.31 L860.08 686.02 L862.58 686.72 L865.08 687.42 L867.57 688.12 L870.07 688.81 L872.57 689.49 L875.06 690.17 L877.56 690.85 L880.06 691.52 L882.56 692.19 L885.05 692.85 L887.55 693.51 L890.05 694.17 L892.54 694.82 L895.04 695.47 L897.54 696.12 L900.04 696.77 L902.53 697.41 L905.03 698.06 L907.53 698.70 L910.02 699.34 L912.52 699.98 L915.02 700.61" fill="none" stroke="#00A800" stroke-width="2.40" stroke-linecap="square" stroke-linejoin="round"/>
<path d="M690.28 713.57 L692.78 711.20 L695.28 708.91 L697.77 706.70 L700.27 704.56 L702.77 702.50 L705.26 700.52 L707.76 698.60 L710.26 696.74 L712.76 694.95 L715.25 693.23 L717.75 691.56 L720.25 689.95 L722.74 688.40 L725.24 686.89 L727.74 685.44 L730.24 684.04 L732.73 682.69 L735.23 681.38 L737.73 680.12 L740.22 678.90 L742.72 677.72 L745.22 676.58 L747.71 675.48 L750.21 674.42 L752.71 673.39 L755.21 672.40 L757.70 671.44 L760.20 670.51 L762.70 669.62 L765.19 668.75 L767.69 667.91 L770.19 667.10 L772.69 666.32 L775.18 665.56 L777.68 664.83 L780.18 664.12 L782.67 663.43 L785.17 662.76 L787.67 662.12 L790.16 661.50 L792.66 660.89 L795.16 660.31 L797.66 659.74 L800.15 659.19 L802.65 658.66 L805.15 658.15 L807.64 657.65 L810.14 657.16 L812.64 656.69 L815.14 656.24 L817.63 655.79 L820.13 655.36 L822.63 654.95 L825.12 654.54 L827.62 654.15 L830.12 653.76 L832.61 653.39 L835.11 653.03 L837.61 652.68 L840.11 652.34 L842.60 652.00 L845.10 651.68 L847.60 651.37 L850.09 651.06 L852.59 650.76 L855.09 650.47 L857.59 650.19 L860.08 649.92 L862.58 649.65 L865.08 649.39 L867.57 649.14 L870.07 648.89 L872.57 648.66 L875.06 648.42 L877.56 648.20 L880.06 647.98 L882.56 647.77 L885.05 647.57 L887.55 647.37 L890.05 647.18 L892.54 646.99 L895.04 646.81 L897.54 646.64 L900.04 646.48 L902.53 646.32 L905.03 646.17 L907.53 646.03 L910.02 645.89 L912.52 645.76 L915.02 645.64" fill="none" stroke="#FF0000" stroke-width="2.40" stroke-linecap="square" stroke-linejoin="round"/>
<path d="M690.28 746.77 L692.78 743.33 L695.28 740.00 L697.77 736.77 L700.27 733.64 L702.77 730.59 L705.26 727.64 L707.76 724.77 L710.26 721.99 L712.76 719.28 L715.25 716.65 L717.75 714.10 L720.25 711.61 L722.74 709.19 L725.24 706.84 L727.74 704.56 L730.24 702.33 L732.73 700.17 L735.23 698.06 L737.73 696.00 L740.22 694.00 L742.72 692.06 L745.22 690.16 L747.71 688.30 L750.21 686.50 L752.71 684.74 L755.21 683.02 L757.70 681.34 L760.20 679.70 L762.70 678.10 L765.19 676.54 L767.69 675.01 L770.19 673.52 L772.69 672.06 L775.18 670.64 L777.68 669.24 L780.18 667.87 L782.67 666.54 L785.17 665.23 L787.67 663.95 L790.16 662.69 L792.66 661.46 L795.16 660.25 L797.66 659.07 L800.15 657.91 L802.65 656.77 L805.15 655.65 L807.64 654.55 L810.14 653.47 L812.64 652.41 L815.14 651.37 L817.63 650.34 L820.13 649.34 L822.63 648.35 L825.12 647.37 L827.62 646.41 L830.12 645.47 L832.61 644.54 L835.11 643.63 L837.61 642.73 L840.11 641.84 L842.60 640.97 L845.10 640.11 L847.60 639.27 L850.09 638.43 L852.59 637.61 L855.09 636.80 L857.59 636.01 L860.08 635.22 L862.58 634.45 L865.08 633.69 L867.57 632.94 L870.07 632.21 L872.57 631.48 L875.06 630.77 L877.56 630.07 L880.06 629.38 L882.56 628.70 L885.05 628.04 L887.55 627.38 L890.05 626.74 L892.54 626.12 L895.04 625.50 L897.54 624.90 L900.04 624.31 L902.53 623.74 L905.03 623.17 L907.53 622.63 L910.02 622.09 L912.52 621.58 L915.02 621.07" fill="none" stroke="#0000FF" stroke-width="2.40" stroke-linecap="square" stroke-linejoin="round"/>
<path d="M690.28 656.63 L692.78 656.66 L695.28 656.70 L697.77 656.75 L700.27 656.81 L702.77 656.89 L705.26 656.97 L707.76 657.07 L710.26 657.17 L712.76 657.28 L715.25 657.40 L717.75 657.53 L720.25 657.66 L722.74 657.81 L725.24 657.95 L727.74 658.11 L730.24 658.27 L732.73 658.44 L735.23 658.61 L737.73 658.78 L740.22 658.96 L742.72 659.15 L745.22 659.34 L747.71 659.53 L750.21 659.73 L752.71 659.93 L755.21 660.13 L757.70 660.34 L760.20 660.55 L762.70 660.76 L765.19 660.97 L767.69 661.19 L770.19 661.40 L772.69 661.62 L775.18 661.84 L777.68 662.07 L780.18 662.29 L782.67 662.52 L785.17 662.74 L787.67 662.97 L790.16 663.20 L792.66 663.43 L795.16 663.66 L797.66 663.89 L800.15 664.12 L802.65 664.35 L805.15 664.58 L807.64 664.81 L810.14 665.04 L812.64 665.28 L815.14 665.51 L817.63 665.74 L820.13 665.97 L822.63 666.20 L825.12 666.43 L827.62 666.66 L830.12 666.89 L832.61 667.12 L835.11 667.35 L837.61 667.57 L840.11 667.80 L842.60 668.03 L845.10 668.26 L847.60 668.48 L850.09 668.71 L852.59 668.93 L855.09 669.15 L857.59 669.38 L860.08 669.60 L862.58 669.82 L865.08 670.04 L867.57 670.26 L870.07 670.48 L872.57 670.70 L875.06 670.92 L877.56 671.14 L880.06 671.36 L882.56 671.57 L885.05 671.79 L887.55 672.01 L890.05 672.22 L892.54 672.44 L895.04 672.65 L897.54 672.87 L900.04 673.08 L902.53 673.30 L905.03 673.51 L907.53 673.73 L910.02 673.94 L912.52 674.15 L915.02 674.37" fill="none" stroke="#000000" stroke-width="2.40" stroke-linecap="square" stroke-linejoin="round"/>
<path d="M690.28 753.70v-1.70 M702.77 753.70v-1.70 M715.25 753.70v-2.90 M727.74 753.70v-1.70 M740.22 753.70v-1.70 M752.71 753.70v-1.70 M765.19 753.70v-2.90 M777.68 753.70v-1.70 M790.16 753.70v-1.70 M802.65 753.70v-1.70 M815.14 753.70v-2.90 M827.62 753.70v-1.70 M840.11 753.70v-1.70 M852.59 753.70v-1.70 M865.08 753.70v-2.90 M877.56 753.70v-1.70 M890.05 753.70v-1.70 M902.53 753.70v-1.70 M915.02 753.70v-2.90 M685.60 753.59h1.70 M685.60 749.75h1.70 M685.60 745.90h2.90 M685.60 742.05h1.70 M685.60 738.21h1.70 M685.60 734.36h1.70 M685.60 730.52h1.70 M685.60 726.67h2.90 M685.60 722.82h1.70 M685.60 718.98h1.70 M685.60 715.13h1.70 M685.60 711.29h1.70 M685.60 707.44h2.90 M685.60 703.59h1.70 M685.60 699.75h1.70 M685.60 695.90h1.70 M685.60 692.06h1.70 M685.60 688.21h2.90 M685.60 684.36h1.70 M685.60 680.52h1.70 M685.60 676.67h1.70 M685.60 672.83h1.70 M685.60 668.98h2.90 M685.60 665.13h1.70 M685.60 661.29h1.70 M685.60 657.44h1.70 M685.60 653.60h1.70 M685.60 649.75h2.90 M685.60 645.90h1.70 M685.60 642.06h1.70 M685.60 638.21h1.70 M685.60 634.37h1.70 M685.60 630.52h2.90 M685.60 626.67h1.70 M685.60 622.83h1.70 M685.60 618.98h1.70 M685.60 615.14h1.70 M685.60 611.29h2.90" fill="none" stroke="#333" stroke-width="0.8"/>
<path d="M690.28 609.60v1.70 M702.77 609.60v1.70 M715.25 609.60v2.90 M727.74 609.60v1.70 M740.22 609.60v1.70 M752.71 609.60v1.70 M765.19 609.60v2.90 M777.68 609.60v1.70 M790.16 609.60v1.70 M802.65 609.60v1.70 M815.14 609.60v2.90 M827.62 609.60v1.70 M840.11 609.60v1.70 M852.59 609.60v1.70 M865.08 609.60v2.90 M877.56 609.60v1.70 M890.05 609.60v1.70 M902.53 609.60v1.70 M915.02 609.60v2.90 M919.70 753.59h-1.70 M919.70 749.75h-1.70 M919.70 745.90h-2.90 M919.70 742.05h-1.70 M919.70 738.21h-1.70 M919.70 734.36h-1.70 M919.70 730.52h-1.70 M919.70 726.67h-2.90 M919.70 722.82h-1.70 M919.70 718.98h-1.70 M919.70 715.13h-1.70 M919.70 711.29h-1.70 M919.70 707.44h-2.90 M919.70 703.59h-1.70 M919.70 699.75h-1.70 M919.70 695.90h-1.70 M919.70 692.06h-1.70 M919.70 688.21h-2.90 M919.70 684.36h-1.70 M919.70 680.52h-1.70 M919.70 676.67h-1.70 M919.70 672.83h-1.70 M919.70 668.98h-2.90 M919.70 665.13h-1.70 M919.70 661.29h-1.70 M919.70 657.44h-1.70 M919.70 653.60h-1.70 M919.70 649.75h-2.90 M919.70 645.90h-1.70 M919.70 642.06h-1.70 M919.70 638.21h-1.70 M919.70 634.37h-1.70 M919.70 630.52h-2.90 M919.70 626.67h-1.70 M919.70 622.83h-1.70 M919.70 618.98h-1.70 M919.70 615.14h-1.70 M919.70 611.29h-2.90" fill="none" stroke="#555" stroke-width="0.6"/>
<rect x="685.60" y="609.60" width="234.10" height="144.10" fill="none" stroke="#5a5a5a" stroke-width="1"/>
<text transform="translate(681.60,749.20) scale(0.13330)" text-anchor="end" font-size="100">0.0090</text>
<text transform="translate(681.60,729.97) scale(0.13330)" text-anchor="end" font-size="100">0.0095</text>
<text transform="translate(681.60,710.74) scale(0.13330)" text-anchor="end" font-size="100">0.0100</text>
<text transform="translate(681.60,691.51) scale(0.13330)" text-anchor="end" font-size="100">0.0105</text>
<text transform="translate(681.60,672.28) scale(0.13330)" text-anchor="end" font-size="100">0.0110</text>
<text transform="translate(681.60,653.05) scale(0.13330)" text-anchor="end" font-size="100">0.0115</text>
<text transform="translate(681.60,633.82) scale(0.13330)" text-anchor="end" font-size="100">0.0120</text>
<text transform="translate(681.60,614.59) scale(0.13330)" text-anchor="end" font-size="100">0.0125</text>
<text transform="translate(715.25,767.10) scale(0.13330)" text-anchor="middle" font-size="100">60</text>
<text transform="translate(765.19,767.10) scale(0.13330)" text-anchor="middle" font-size="100">80</text>
<text transform="translate(815.14,767.10) scale(0.13330)" text-anchor="middle" font-size="100">100</text>
<text transform="translate(865.08,767.10) scale(0.13330)" text-anchor="middle" font-size="100">120</text>
<text transform="translate(915.02,767.10) scale(0.13330)" text-anchor="middle" font-size="100">140</text>
<rect x="249.4" y="2.15" width="427.6" height="35.15" fill="#fff" stroke="#111" stroke-width="1.3"/>
<path d="M254.2 22.5H293.9" stroke="#00A800" stroke-width="2.4"/>
<path d="M365.4 22.5H404.7" stroke="#FF0000" stroke-width="2.4"/>
<path d="M476.1 22.5H515.9" stroke="#0000FF" stroke-width="2.4"/>
<path d="M589.2 22.5H628.9" stroke="#000000" stroke-width="2.4"/>
<text transform="matrix(0.11680,0,0,0.08634,305.56,18.80)" font-size="100" font-weight="bold" fill="#000">1</text>
<text transform="matrix(0.17335,0,0,0.15628,312.69,24.65)" font-size="100" font-weight="bold" font-style="italic" fill="#000">S</text>
<text transform="matrix(0.11797,0,0,0.08891,321.35,27.71)" font-size="100" font-weight="bold" fill="#000">0</text>
<text transform="matrix(0.07635,0,0,0.11720,322.43,18.33)" font-size="100" font-weight="bold" fill="#000">[</text>
<text transform="matrix(0.11301,0,0,0.09188,325.02,17.41)" font-size="100" font-weight="bold" fill="#000">8</text>
<text transform="matrix(0.07635,0,0,0.11720,331.02,18.33)" font-size="100" font-weight="bold" fill="#000">]</text>
<text transform="matrix(0.11443,0,0,0.08781,416.77,18.71)" font-size="100" font-weight="bold" fill="#000">3</text>
<text transform="matrix(0.17134,0,0,0.15628,423.79,24.65)" font-size="100" font-weight="bold" font-style="italic" fill="#000">S</text>
<text transform="matrix(0.11680,0,0,0.08634,432.16,27.80)" font-size="100" font-weight="bold" fill="#000">1</text>
<text transform="matrix(0.07635,0,0,0.11720,433.33,18.33)" font-size="100" font-weight="bold" fill="#000">[</text>
<text transform="matrix(0.11301,0,0,0.09188,435.92,17.41)" font-size="100" font-weight="bold" fill="#000">8</text>
<text transform="matrix(0.07635,0,0,0.11720,441.92,18.33)" font-size="100" font-weight="bold" fill="#000">]</text>
<text transform="matrix(0.11209,0,0,0.08781,527.98,18.71)" font-size="100" font-weight="bold" fill="#000">3</text>
<text transform="matrix(0.18456,0,0,0.14814,535.11,24.20)" font-size="100" font-weight="bold" font-style="italic" fill="#000">P</text>
<text transform="matrix(0.10221,0,0,0.09029,544.32,27.71)" font-size="100" font-weight="bold" font-style="italic" fill="#000">J</text>
<text transform="matrix(0.07635,0,0,0.11720,546.43,18.33)" font-size="100" font-weight="bold" fill="#000">[</text>
<text transform="matrix(0.11301,0,0,0.09188,549.02,17.41)" font-size="100" font-weight="bold" fill="#000">8</text>
<text transform="matrix(0.07635,0,0,0.11720,555.02,18.33)" font-size="100" font-weight="bold" fill="#000">]</text>
<text transform="matrix(0.11676,0,0,0.08781,640.66,18.71)" font-size="100" font-weight="bold" fill="#000">3</text>
<text transform="matrix(0.17134,0,0,0.15628,647.79,24.65)" font-size="100" font-weight="bold" font-style="italic" fill="#000">S</text>
<text transform="matrix(0.11136,0,0,0.08634,656.21,27.80)" font-size="100" font-weight="bold" fill="#000">1</text>
<text transform="matrix(0.07635,0,0,0.11720,657.23,18.33)" font-size="100" font-weight="bold" fill="#000">[</text>
<text transform="matrix(0.11136,0,0,0.08937,659.61,17.50)" font-size="100" font-weight="bold" fill="#000">1</text>
<text transform="matrix(0.07635,0,0,0.11720,665.82,18.33)" font-size="100" font-weight="bold" fill="#000">]</text>
<text transform="matrix(0.24276,0,0,0.20916,171.27,63.10)" font-size="100" font-style="italic" stroke="#000" stroke-width="2.66" stroke-linejoin="round" fill="#000">z</text>
<rect x="188.80" y="54.1" width="15.7" height="1.4"/><rect x="188.80" y="59.1" width="15.7" height="1.4"/>
<text transform="matrix(0.24538,0,0,0.18968,210.77,62.91)" font-size="100" stroke="#000" stroke-width="2.76" stroke-linejoin="round" fill="#000">0</text>
<circle cx="225.50" cy="62.0" r="1.45"/>
<text transform="matrix(0.22803,0,0,0.19447,228.55,63.10)" font-size="100" stroke="#000" stroke-width="2.84" stroke-linejoin="round" fill="#000">4</text>
<text transform="matrix(0.24276,0,0,0.20916,461.27,63.10)" font-size="100" font-style="italic" stroke="#000" stroke-width="2.66" stroke-linejoin="round" fill="#000">z</text>
<rect x="478.80" y="54.1" width="15.7" height="1.4"/><rect x="478.80" y="59.1" width="15.7" height="1.4"/>
<text transform="matrix(0.24538,0,0,0.18968,500.77,62.91)" font-size="100" stroke="#000" stroke-width="2.76" stroke-linejoin="round" fill="#000">0</text>
<circle cx="515.50" cy="62.0" r="1.45"/>
<text transform="matrix(0.26314,0,0,0.19261,517.47,62.91)" font-size="100" stroke="#000" stroke-width="2.63" stroke-linejoin="round" fill="#000">5</text>
<text transform="matrix(0.24276,0,0,0.20916,750.67,63.10)" font-size="100" font-style="italic" stroke="#000" stroke-width="2.66" stroke-linejoin="round" fill="#000">z</text>
<rect x="768.20" y="54.1" width="15.7" height="1.4"/><rect x="768.20" y="59.1" width="15.7" height="1.4"/>
<text transform="matrix(0.24538,0,0,0.18968,790.17,62.91)" font-size="100" stroke="#000" stroke-width="2.76" stroke-linejoin="round" fill="#000">0</text>
<circle cx="804.90" cy="62.0" r="1.45"/>
<text transform="matrix(0.24810,0,0,0.19051,807.33,62.91)" font-size="100" stroke="#000" stroke-width="2.74" stroke-linejoin="round" fill="#000">6</text>
<text transform="translate(13.00,157.70) rotate(-90)" text-anchor="middle" font-size="16.45">Bodwin et al.</text>
<text transform="translate(13.00,333.60) rotate(-90)" text-anchor="middle" font-size="16.60">Butenschoen et al.</text>
<text transform="translate(13.00,511.00) rotate(-90)" text-anchor="middle" font-size="16.40">Chao et al.</text>
<text transform="translate(13.00,683.80) rotate(-90)" text-anchor="middle" font-size="16.30">Normalized to 1</text>
<path d="M42.20 142.20V178.20" stroke="#333" stroke-width="0.9"/>
<text transform="matrix(0,-0.13978,0.13350,0,35.31,170.97)" font-size="100" font-style="italic" stroke="#000" stroke-width="2.20" stroke-linejoin="round" fill="#000">d</text>
<text transform="matrix(0,-0.14542,0.11230,0,35.34,163.48)" font-size="100" font-style="italic" stroke="#000" stroke-width="2.33" stroke-linejoin="round" fill="#000">σ</text>
<path d="M28.20 162.00L26.30 159.80L28.20 157.60" fill="none" stroke="#000" stroke-width="1.0"/>
<text transform="matrix(0,-0.11048,0.08790,0,37.51,153.52)" font-size="100" font-style="italic" stroke="#000" stroke-width="1.81" stroke-linejoin="round" fill="#000">i</text>
<text transform="matrix(0,-0.16764,0.13776,0,56.01,177.26)" font-size="100" font-style="italic" stroke="#000" stroke-width="1.96" stroke-linejoin="round" fill="#000">dEdz</text>
<path d="M42.20 317.80V353.80" stroke="#333" stroke-width="0.9"/>
<text transform="matrix(0,-0.13978,0.13350,0,35.31,346.57)" font-size="100" font-style="italic" stroke="#000" stroke-width="2.20" stroke-linejoin="round" fill="#000">d</text>
<text transform="matrix(0,-0.14542,0.11230,0,35.34,339.08)" font-size="100" font-style="italic" stroke="#000" stroke-width="2.33" stroke-linejoin="round" fill="#000">σ</text>
<path d="M28.20 337.60L26.30 335.40L28.20 333.20" fill="none" stroke="#000" stroke-width="1.0"/>
<text transform="matrix(0,-0.11048,0.08790,0,37.51,329.12)" font-size="100" font-style="italic" stroke="#000" stroke-width="1.81" stroke-linejoin="round" fill="#000">i</text>
<text transform="matrix(0,-0.16764,0.13776,0,56.01,352.86)" font-size="100" font-style="italic" stroke="#000" stroke-width="1.96" stroke-linejoin="round" fill="#000">dEdz</text>
<path d="M42.20 495.10V531.10" stroke="#333" stroke-width="0.9"/>
<text transform="matrix(0,-0.13978,0.13350,0,35.31,523.87)" font-size="100" font-style="italic" stroke="#000" stroke-width="2.20" stroke-linejoin="round" fill="#000">d</text>
<text transform="matrix(0,-0.14542,0.11230,0,35.34,516.38)" font-size="100" font-style="italic" stroke="#000" stroke-width="2.33" stroke-linejoin="round" fill="#000">σ</text>
<path d="M28.20 514.90L26.30 512.70L28.20 510.50" fill="none" stroke="#000" stroke-width="1.0"/>
<text transform="matrix(0,-0.11048,0.08790,0,37.51,506.42)" font-size="100" font-style="italic" stroke="#000" stroke-width="1.81" stroke-linejoin="round" fill="#000">i</text>
<text transform="matrix(0,-0.16764,0.13776,0,56.01,530.16)" font-size="100" font-style="italic" stroke="#000" stroke-width="1.96" stroke-linejoin="round" fill="#000">dEdz</text>
<path d="M40.4 659.2V695.4" stroke="#333" stroke-width="0.9"/>
<path d="M40.4 697.7V711.3" stroke="#333" stroke-width="0.9"/>
<text transform="matrix(0,-0.16096,0.13208,0,33.51,688.44)" font-size="100" font-style="italic" stroke="#000" stroke-width="2.05" stroke-linejoin="round" fill="#000">d</text>
<text transform="matrix(0,-0.13532,0.11230,0,33.54,679.55)" font-size="100" font-style="italic" stroke="#000" stroke-width="2.42" stroke-linejoin="round" fill="#000">σ</text>
<path d="M26.50 678.20L24.60 676.00L26.50 673.80" fill="none" stroke="#000" stroke-width="1.0"/>
<text transform="matrix(0,-0.12090,0.08790,0,35.71,670.68)" font-size="100" font-style="italic" stroke="#000" stroke-width="1.72" stroke-linejoin="round" fill="#000">i</text>
<text transform="matrix(0,-0.16866,0.13634,0,53.91,695.06)" font-size="100" font-style="italic" stroke="#000" stroke-width="1.97" stroke-linejoin="round" fill="#000">dEdz</text>
<text transform="matrix(0,-0.13634,0.13936,0,33.80,709.00)" font-size="100" fill="#000">1</text>
<text transform="matrix(0,-0.13532,0.11991,0,54.13,710.65)" font-size="100" font-style="italic" stroke="#000" stroke-width="2.35" stroke-linejoin="round" fill="#000">σ</text>
<path d="M46.80 709.20L44.70 707.00L46.80 704.80" fill="none" stroke="#000" stroke-width="1.0"/>
<text transform="matrix(0,-0.14174,0.08035,0,55.61,702.90)" font-size="100" font-style="italic" stroke="#000" stroke-width="1.62" stroke-linejoin="round" fill="#000">i</text>
<text transform="matrix(0.16537,0,0,0.13745,183.02,790.30)" font-size="100" font-weight="bold" font-style="italic" fill="#000">E</text>
<text transform="matrix(0.14795,0,0,0.15330,194.35,790.54)" font-size="100" fill="#000">(</text>
<text transform="matrix(0.14394,0,0,0.14884,199.10,790.65)" font-size="100" font-weight="bold" fill="#000">G</text>
<text transform="matrix(0.15634,0,0,0.13347,209.87,790.68)" font-size="100" font-weight="bold" fill="#000">e</text>
<text transform="matrix(0.15721,0,0,0.13733,216.62,790.29)" font-size="100" font-weight="bold" fill="#000">V</text>
<text transform="matrix(0.14795,0,0,0.15330,228.72,790.54)" font-size="100" fill="#000">)</text>
<text transform="matrix(0.16537,0,0,0.13745,472.62,790.30)" font-size="100" font-weight="bold" font-style="italic" fill="#000">E</text>
<text transform="matrix(0.14795,0,0,0.15330,483.95,790.54)" font-size="100" fill="#000">(</text>
<text transform="matrix(0.14394,0,0,0.14884,488.70,790.65)" font-size="100" font-weight="bold" fill="#000">G</text>
<text transform="matrix(0.15634,0,0,0.13347,499.47,790.68)" font-size="100" font-weight="bold" fill="#000">e</text>
<text transform="matrix(0.15721,0,0,0.13733,506.22,790.29)" font-size="100" font-weight="bold" fill="#000">V</text>
<text transform="matrix(0.14795,0,0,0.15330,518.32,790.54)" font-size="100" fill="#000">)</text>
<text transform="matrix(0.16537,0,0,0.13745,761.92,790.30)" font-size="100" font-weight="bold" font-style="italic" fill="#000">E</text>
<text transform="matrix(0.14795,0,0,0.15330,773.25,790.54)" font-size="100" fill="#000">(</text>
<text transform="matrix(0.14394,0,0,0.14884,778.00,790.65)" font-size="100" font-weight="bold" fill="#000">G</text>
<text transform="matrix(0.15634,0,0,0.13347,788.77,790.68)" font-size="100" font-weight="bold" fill="#000">e</text>
<text transform="matrix(0.15721,0,0,0.13733,795.52,790.29)" font-size="100" font-weight="bold" fill="#000">V</text>
<text transform="matrix(0.14795,0,0,0.15330,807.62,790.54)" font-size="100" fill="#000">)</text>
</svg>
</body></html>
